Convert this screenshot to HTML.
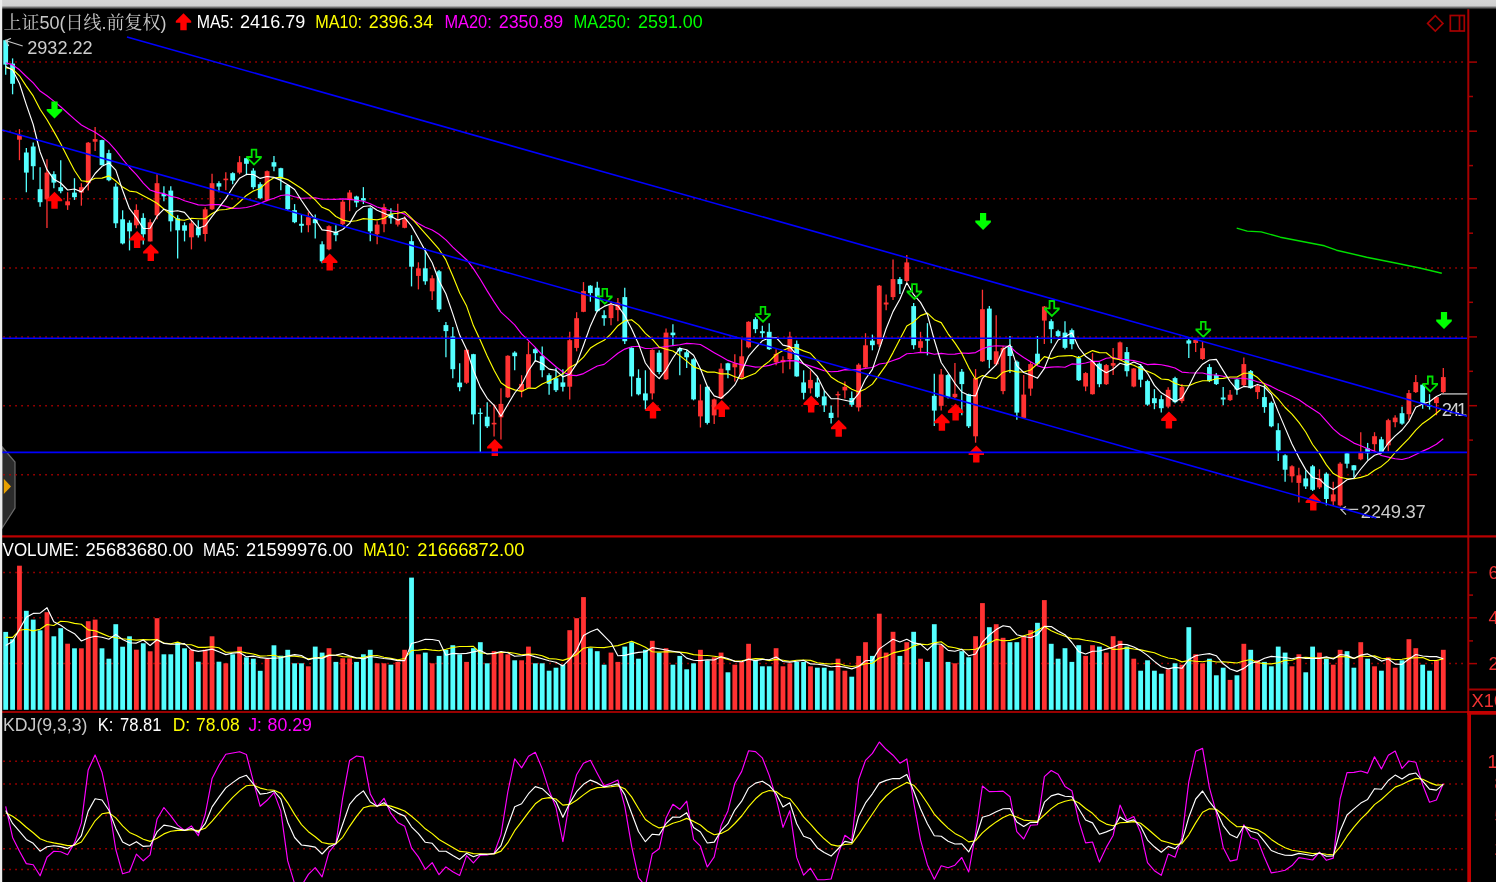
<!DOCTYPE html><html><head><meta charset="utf-8"><title>上证50</title><style>
html,body{margin:0;padding:0;background:#000;}body{width:1496px;height:882px;overflow:hidden;position:relative;font-family:"Liberation Sans","Noto Sans CJK SC",sans-serif;}
svg{position:absolute;left:0;top:0;}text{font-family:"Liberation Sans","Noto Sans CJK SC",sans-serif;font-size:18.4px;}
</style></head><body>
<svg width="1496" height="882" viewBox="0 0 1496 882">
<defs><linearGradient id="tg" x1="0" y1="0" x2="0" y2="1"><stop offset="0" stop-color="#d4d4d4"/><stop offset="0.62" stop-color="#d0d0d0"/><stop offset="1" stop-color="#101010"/></linearGradient></defs>
<rect x="0" y="0" width="1496" height="882" fill="#000"/>
<path d="M2.2 447 L15 462 L15 508 L2.2 528 Z" fill="#2b2b2b" stroke="#6a6a6a" stroke-width="1.2"/>
<path d="M3.8 478.8 L11 486.5 L3.8 494 Z" fill="#e8a000"/>
<line x1="3.3" y1="62.1" x2="1466" y2="62.1" stroke="#b80000" stroke-width="1.5" stroke-dasharray="1.5 4.5"/>
<line x1="3.3" y1="131.2" x2="1466" y2="131.2" stroke="#b80000" stroke-width="1.5" stroke-dasharray="1.5 4.5"/>
<line x1="3.3" y1="198.8" x2="1466" y2="198.8" stroke="#b80000" stroke-width="1.5" stroke-dasharray="1.5 4.5"/>
<line x1="3.3" y1="267.9" x2="1466" y2="267.9" stroke="#b80000" stroke-width="1.5" stroke-dasharray="1.5 4.5"/>
<line x1="3.3" y1="336.9" x2="1466" y2="336.9" stroke="#b80000" stroke-width="1.5" stroke-dasharray="1.5 4.5"/>
<line x1="3.3" y1="405.7" x2="1466" y2="405.7" stroke="#b80000" stroke-width="1.5" stroke-dasharray="1.5 4.5"/>
<line x1="3.3" y1="474.7" x2="1466" y2="474.7" stroke="#b80000" stroke-width="1.5" stroke-dasharray="1.5 4.5"/>
<line x1="3.3" y1="572.5" x2="1466" y2="572.5" stroke="#b80000" stroke-width="1.5" stroke-dasharray="1.5 4.5"/>
<line x1="3.3" y1="617.8" x2="1466" y2="617.8" stroke="#b80000" stroke-width="1.5" stroke-dasharray="1.5 4.5"/>
<line x1="3.3" y1="663.6" x2="1466" y2="663.6" stroke="#b80000" stroke-width="1.5" stroke-dasharray="1.5 4.5"/>
<line x1="3.3" y1="761.3" x2="1466" y2="761.3" stroke="#b80000" stroke-width="1.5" stroke-dasharray="1.5 4.5"/>
<line x1="3.3" y1="784.0" x2="1466" y2="784.0" stroke="#b80000" stroke-width="1.5" stroke-dasharray="1.5 4.5"/>
<line x1="3.3" y1="815.6" x2="1466" y2="815.6" stroke="#b80000" stroke-width="1.5" stroke-dasharray="1.5 4.5"/>
<line x1="3.3" y1="848.7" x2="1466" y2="848.7" stroke="#b80000" stroke-width="1.5" stroke-dasharray="1.5 4.5"/>
<line x1="3.3" y1="869.6" x2="1466" y2="869.6" stroke="#b80000" stroke-width="1.5" stroke-dasharray="1.5 4.5"/>
<rect x="1467.3" y="9" width="2.0" height="703" fill="#a60000"/>
<line x1="1468" y1="62.1" x2="1477" y2="62.1" stroke="#a60000" stroke-width="1.5"/>
<line x1="1468" y1="96.5" x2="1473" y2="96.5" stroke="#a60000" stroke-width="1.5"/>
<line x1="1468" y1="131.2" x2="1477" y2="131.2" stroke="#a60000" stroke-width="1.5"/>
<line x1="1468" y1="165.6" x2="1473" y2="165.6" stroke="#a60000" stroke-width="1.5"/>
<line x1="1468" y1="198.8" x2="1477" y2="198.8" stroke="#a60000" stroke-width="1.5"/>
<line x1="1468" y1="233.2" x2="1473" y2="233.2" stroke="#a60000" stroke-width="1.5"/>
<line x1="1468" y1="267.9" x2="1477" y2="267.9" stroke="#a60000" stroke-width="1.5"/>
<line x1="1468" y1="302.3" x2="1473" y2="302.3" stroke="#a60000" stroke-width="1.5"/>
<line x1="1468" y1="336.9" x2="1477" y2="336.9" stroke="#a60000" stroke-width="1.5"/>
<line x1="1468" y1="371.3" x2="1473" y2="371.3" stroke="#a60000" stroke-width="1.5"/>
<line x1="1468" y1="405.7" x2="1477" y2="405.7" stroke="#a60000" stroke-width="1.5"/>
<line x1="1468" y1="440.1" x2="1473" y2="440.1" stroke="#a60000" stroke-width="1.5"/>
<line x1="1468" y1="474.7" x2="1477" y2="474.7" stroke="#a60000" stroke-width="1.5"/>
<line x1="1468" y1="572.5" x2="1477" y2="572.5" stroke="#a60000" stroke-width="1.5"/>
<line x1="1468" y1="617.8" x2="1477" y2="617.8" stroke="#a60000" stroke-width="1.5"/>
<line x1="1468" y1="595.0999999999999" x2="1473" y2="595.0999999999999" stroke="#a60000" stroke-width="1.5"/>
<line x1="1468" y1="663.6" x2="1477" y2="663.6" stroke="#a60000" stroke-width="1.5"/>
<line x1="1468" y1="640.9" x2="1473" y2="640.9" stroke="#a60000" stroke-width="1.5"/>
<g><path d="M5.70 39.7V74.8" stroke="#54ffff" stroke-width="1.3"/><rect x="3.30" y="40.2" width="4.8" height="24.4" fill="#54ffff"/><path d="M12.58 58.4V94.3" stroke="#54ffff" stroke-width="1.3"/><rect x="10.18" y="63.6" width="4.8" height="20.2" fill="#54ffff"/><path d="M19.46 129.1V160.2" stroke="#ff3232" stroke-width="1.3"/><rect x="17.06" y="135.1" width="4.8" height="4.6" fill="#ff3232"/><path d="M26.34 148.1V192.2" stroke="#54ffff" stroke-width="1.3"/><rect x="23.94" y="152.5" width="4.8" height="20.1" fill="#54ffff"/><path d="M33.21 142.5V179.8" stroke="#54ffff" stroke-width="1.3"/><rect x="30.81" y="146.5" width="4.8" height="19.7" fill="#54ffff"/><path d="M40.09 167.2V206.7" stroke="#54ffff" stroke-width="1.3"/><rect x="37.69" y="189.2" width="4.8" height="13.0" fill="#54ffff"/><path d="M46.97 159.2V227.9" stroke="#ff3232" stroke-width="1.3"/><rect x="44.57" y="172.6" width="4.8" height="26.7" fill="#ff3232"/><path d="M53.85 171.2V188.2" stroke="#54ffff" stroke-width="1.3"/><rect x="51.45" y="174.2" width="4.8" height="8.4" fill="#54ffff"/><path d="M60.73 160.2V193.2" stroke="#54ffff" stroke-width="1.3"/><rect x="58.33" y="187.2" width="4.8" height="4.0" fill="#54ffff"/><path d="M67.61 192.2V209.9" stroke="#ff3232" stroke-width="1.3"/><rect x="65.21" y="201.3" width="4.8" height="4.0" fill="#ff3232"/><path d="M74.48 178.2V199.9" stroke="#54ffff" stroke-width="1.3"/><rect x="72.08" y="192.6" width="4.8" height="4.6" fill="#54ffff"/><path d="M81.36 183.2V205.7" stroke="#ff3232" stroke-width="1.3"/><rect x="78.96" y="187.2" width="4.8" height="5.4" fill="#ff3232"/><path d="M88.24 142.1V190.6" stroke="#ff3232" stroke-width="1.3"/><rect x="85.84" y="142.7" width="4.8" height="40.5" fill="#ff3232"/><path d="M95.12 127.1V151.1" stroke="#ff3232" stroke-width="1.3"/><rect x="92.72" y="139.1" width="4.8" height="2.6" fill="#ff3232"/><path d="M102.00 139.7V165.2" stroke="#54ffff" stroke-width="1.3"/><rect x="99.60" y="140.1" width="4.8" height="25.1" fill="#54ffff"/><path d="M108.88 149.7V181.2" stroke="#54ffff" stroke-width="1.3"/><rect x="106.48" y="153.1" width="4.8" height="27.1" fill="#54ffff"/><path d="M115.76 183.2V227.9" stroke="#54ffff" stroke-width="1.3"/><rect x="113.36" y="186.6" width="4.8" height="36.7" fill="#54ffff"/><path d="M122.63 210.3V244.4" stroke="#54ffff" stroke-width="1.3"/><rect x="120.23" y="219.3" width="4.8" height="24.1" fill="#54ffff"/><path d="M129.51 220.3V250.4" stroke="#54ffff" stroke-width="1.3"/><rect x="127.11" y="222.7" width="4.8" height="8.6" fill="#54ffff"/><path d="M136.39 204.3V228.3" stroke="#ff3232" stroke-width="1.3"/><rect x="133.99" y="209.9" width="4.8" height="15.4" fill="#ff3232"/><path d="M143.27 213.3V244.4" stroke="#54ffff" stroke-width="1.3"/><rect x="140.87" y="217.9" width="4.8" height="16.4" fill="#54ffff"/><path d="M150.15 219.3V241.4" stroke="#ff3232" stroke-width="1.3"/><rect x="147.75" y="222.3" width="4.8" height="19.1" fill="#ff3232"/><path d="M157.03 174.2V219.3" stroke="#ff3232" stroke-width="1.3"/><rect x="154.63" y="183.2" width="4.8" height="32.1" fill="#ff3232"/><path d="M163.91 186.2V201.3" stroke="#54ffff" stroke-width="1.3"/><rect x="161.51" y="193.9" width="4.8" height="2.4" fill="#54ffff"/><path d="M170.78 186.2V231.4" stroke="#54ffff" stroke-width="1.3"/><rect x="168.38" y="190.6" width="4.8" height="30.7" fill="#54ffff"/><path d="M177.66 215.3V258.4" stroke="#54ffff" stroke-width="1.3"/><rect x="175.26" y="218.3" width="4.8" height="12.0" fill="#54ffff"/><path d="M184.54 222.3V241.4" stroke="#54ffff" stroke-width="1.3"/><rect x="182.14" y="225.3" width="4.8" height="5.4" fill="#54ffff"/><path d="M191.42 220.3V249.4" stroke="#ff3232" stroke-width="1.3"/><rect x="189.02" y="223.3" width="4.8" height="14.0" fill="#ff3232"/><path d="M198.30 220.3V237.4" stroke="#54ffff" stroke-width="1.3"/><rect x="195.90" y="227.3" width="4.8" height="8.0" fill="#54ffff"/><path d="M205.18 207.3V241.4" stroke="#ff3232" stroke-width="1.3"/><rect x="202.78" y="209.3" width="4.8" height="24.7" fill="#ff3232"/><path d="M212.05 173.8V209.9" stroke="#ff3232" stroke-width="1.3"/><rect x="209.65" y="183.2" width="4.8" height="26.1" fill="#ff3232"/><path d="M218.93 181.2V192.2" stroke="#54ffff" stroke-width="1.3"/><rect x="216.53" y="183.2" width="4.8" height="3.4" fill="#54ffff"/><path d="M225.81 172.2V190.2" stroke="#ff3232" stroke-width="1.3"/><rect x="223.41" y="178.6" width="4.8" height="1.6" fill="#ff3232"/><path d="M232.69 172.2V184.2" stroke="#54ffff" stroke-width="1.3"/><rect x="230.29" y="173.2" width="4.8" height="7.4" fill="#54ffff"/><path d="M239.57 156.1V174.2" stroke="#ff3232" stroke-width="1.3"/><rect x="237.17" y="162.2" width="4.8" height="10.4" fill="#ff3232"/><path d="M246.45 157.8V175.2" stroke="#54ffff" stroke-width="1.3"/><rect x="244.05" y="158.2" width="4.8" height="5.6" fill="#54ffff"/><path d="M253.33 168.2V189.2" stroke="#54ffff" stroke-width="1.3"/><rect x="250.93" y="170.6" width="4.8" height="16.6" fill="#54ffff"/><path d="M260.20 182.2V199.3" stroke="#54ffff" stroke-width="1.3"/><rect x="257.80" y="184.2" width="4.8" height="14.0" fill="#54ffff"/><path d="M267.08 170.6V201.3" stroke="#ff3232" stroke-width="1.3"/><rect x="264.68" y="171.2" width="4.8" height="29.1" fill="#ff3232"/><path d="M273.96 156.1V171.2" stroke="#54ffff" stroke-width="1.3"/><rect x="271.56" y="162.2" width="4.8" height="4.4" fill="#54ffff"/><path d="M280.84 167.8V190.2" stroke="#54ffff" stroke-width="1.3"/><rect x="278.44" y="168.2" width="4.8" height="10.4" fill="#54ffff"/><path d="M287.72 184.5V209.8" stroke="#54ffff" stroke-width="1.3"/><rect x="285.32" y="185.1" width="4.8" height="24.1" fill="#54ffff"/><path d="M294.60 204.1V223.2" stroke="#54ffff" stroke-width="1.3"/><rect x="292.20" y="210.2" width="4.8" height="12.0" fill="#54ffff"/><path d="M301.48 214.2V232.6" stroke="#54ffff" stroke-width="1.3"/><rect x="299.08" y="223.8" width="4.8" height="2.0" fill="#54ffff"/><path d="M308.35 212.2V232.2" stroke="#ff3232" stroke-width="1.3"/><rect x="305.95" y="217.2" width="4.8" height="8.0" fill="#ff3232"/><path d="M315.23 214.6V238.6" stroke="#54ffff" stroke-width="1.3"/><rect x="312.83" y="219.2" width="4.8" height="4.0" fill="#54ffff"/><path d="M322.11 241.2V263.3" stroke="#54ffff" stroke-width="1.3"/><rect x="319.71" y="244.3" width="4.8" height="17.0" fill="#54ffff"/><path d="M328.99 225.2V250.3" stroke="#ff3232" stroke-width="1.3"/><rect x="326.59" y="226.2" width="4.8" height="23.1" fill="#ff3232"/><path d="M335.87 225.2V241.2" stroke="#54ffff" stroke-width="1.3"/><rect x="333.47" y="231.8" width="4.8" height="3.4" fill="#54ffff"/><path d="M342.75 200.1V225.2" stroke="#ff3232" stroke-width="1.3"/><rect x="340.35" y="201.7" width="4.8" height="22.5" fill="#ff3232"/><path d="M349.62 190.1V211.2" stroke="#ff3232" stroke-width="1.3"/><rect x="347.23" y="192.5" width="4.8" height="7.6" fill="#ff3232"/><path d="M356.50 195.7V207.2" stroke="#54ffff" stroke-width="1.3"/><rect x="354.10" y="196.5" width="4.8" height="6.0" fill="#54ffff"/><path d="M363.38 187.1V204.1" stroke="#54ffff" stroke-width="1.3"/><rect x="360.98" y="198.1" width="4.8" height="2.4" fill="#54ffff"/><path d="M370.26 207.2V241.2" stroke="#54ffff" stroke-width="1.3"/><rect x="367.86" y="208.2" width="4.8" height="23.1" fill="#54ffff"/><path d="M377.14 221.2V244.3" stroke="#ff3232" stroke-width="1.3"/><rect x="374.74" y="224.6" width="4.8" height="9.6" fill="#ff3232"/><path d="M384.02 203.7V232.2" stroke="#ff3232" stroke-width="1.3"/><rect x="381.62" y="207.2" width="4.8" height="17.0" fill="#ff3232"/><path d="M390.90 208.2V223.8" stroke="#54ffff" stroke-width="1.3"/><rect x="388.50" y="213.8" width="4.8" height="4.4" fill="#54ffff"/><path d="M397.77 203.7V226.6" stroke="#ff3232" stroke-width="1.3"/><rect x="395.37" y="219.2" width="4.8" height="5.4" fill="#ff3232"/><path d="M404.65 216.2V228.2" stroke="#ff3232" stroke-width="1.3"/><rect x="402.25" y="219.2" width="4.8" height="8.6" fill="#ff3232"/><path d="M411.53 235.2V286.4" stroke="#54ffff" stroke-width="1.3"/><rect x="409.13" y="241.2" width="4.8" height="25.5" fill="#54ffff"/><path d="M418.41 262.3V289.4" stroke="#ff3232" stroke-width="1.3"/><rect x="416.01" y="268.3" width="4.8" height="7.6" fill="#ff3232"/><path d="M425.29 247.9V284.8" stroke="#54ffff" stroke-width="1.3"/><rect x="422.89" y="268.3" width="4.8" height="13.0" fill="#54ffff"/><path d="M432.17 275.3V300.0" stroke="#ff3232" stroke-width="1.3"/><rect x="429.77" y="278.3" width="4.8" height="13.0" fill="#ff3232"/><path d="M439.05 269.9V312.0" stroke="#54ffff" stroke-width="1.3"/><rect x="436.65" y="271.3" width="4.8" height="38.1" fill="#54ffff"/><path d="M445.92 322.1V357.2" stroke="#54ffff" stroke-width="1.3"/><rect x="443.52" y="325.1" width="4.8" height="6.0" fill="#54ffff"/><path d="M452.80 327.1V378.2" stroke="#54ffff" stroke-width="1.3"/><rect x="450.40" y="336.5" width="4.8" height="32.7" fill="#54ffff"/><path d="M459.68 363.2V391.3" stroke="#54ffff" stroke-width="1.3"/><rect x="457.28" y="382.6" width="4.8" height="4.6" fill="#54ffff"/><path d="M466.56 349.2V383.9" stroke="#ff3232" stroke-width="1.3"/><rect x="464.16" y="349.8" width="4.8" height="32.9" fill="#ff3232"/><path d="M473.44 353.8V424.4" stroke="#54ffff" stroke-width="1.3"/><rect x="471.04" y="354.2" width="4.8" height="60.2" fill="#54ffff"/><path d="M480.32 408.3V452.0" stroke="#54ffff" stroke-width="1.3"/><rect x="477.92" y="412.7" width="4.8" height="1.2" fill="#54ffff"/><path d="M487.19 402.3V428.0" stroke="#54ffff" stroke-width="1.3"/><rect x="484.80" y="416.7" width="4.8" height="9.6" fill="#54ffff"/><path d="M494.07 404.3V436.4" stroke="#ff3232" stroke-width="1.3"/><rect x="491.67" y="422.8" width="4.8" height="1.6" fill="#ff3232"/><path d="M500.95 388.3V439.4" stroke="#ff3232" stroke-width="1.3"/><rect x="498.55" y="403.9" width="4.8" height="13.4" fill="#ff3232"/><path d="M507.83 355.2V397.9" stroke="#ff3232" stroke-width="1.3"/><rect x="505.43" y="355.8" width="4.8" height="41.5" fill="#ff3232"/><path d="M514.71 351.2V370.2" stroke="#54ffff" stroke-width="1.3"/><rect x="512.31" y="352.6" width="4.8" height="3.6" fill="#54ffff"/><path d="M521.59 375.2V397.3" stroke="#ff3232" stroke-width="1.3"/><rect x="519.19" y="383.9" width="4.8" height="7.4" fill="#ff3232"/><path d="M528.47 341.7V388.3" stroke="#ff3232" stroke-width="1.3"/><rect x="526.07" y="354.2" width="4.8" height="33.7" fill="#ff3232"/><path d="M535.34 347.8V361.8" stroke="#54ffff" stroke-width="1.3"/><rect x="532.94" y="349.2" width="4.8" height="4.0" fill="#54ffff"/><path d="M542.22 346.6V377.2" stroke="#54ffff" stroke-width="1.3"/><rect x="539.82" y="356.2" width="4.8" height="14.0" fill="#54ffff"/><path d="M549.10 373.2V394.7" stroke="#54ffff" stroke-width="1.3"/><rect x="546.70" y="375.2" width="4.8" height="8.6" fill="#54ffff"/><path d="M555.98 367.8V391.9" stroke="#54ffff" stroke-width="1.3"/><rect x="553.58" y="378.2" width="4.8" height="12.0" fill="#54ffff"/><path d="M562.86 369.3V391.4" stroke="#54ffff" stroke-width="1.3"/><rect x="560.46" y="382.4" width="4.8" height="4.4" fill="#54ffff"/><path d="M569.74 331.8V399.4" stroke="#ff3232" stroke-width="1.3"/><rect x="567.34" y="340.2" width="4.8" height="46.5" fill="#ff3232"/><path d="M576.62 312.2V351.3" stroke="#ff3232" stroke-width="1.3"/><rect x="574.22" y="318.2" width="4.8" height="29.7" fill="#ff3232"/><path d="M583.49 282.1V312.2" stroke="#ff3232" stroke-width="1.3"/><rect x="581.09" y="291.1" width="4.8" height="20.7" fill="#ff3232"/><path d="M590.37 285.1V301.7" stroke="#54ffff" stroke-width="1.3"/><rect x="587.97" y="285.7" width="4.8" height="7.4" fill="#54ffff"/><path d="M597.25 281.7V312.2" stroke="#54ffff" stroke-width="1.3"/><rect x="594.85" y="287.7" width="4.8" height="23.5" fill="#54ffff"/><path d="M604.13 310.2V325.8" stroke="#54ffff" stroke-width="1.3"/><rect x="601.73" y="315.2" width="4.8" height="3.0" fill="#54ffff"/><path d="M611.01 301.1V325.2" stroke="#ff3232" stroke-width="1.3"/><rect x="608.61" y="305.1" width="4.8" height="13.0" fill="#ff3232"/><path d="M617.89 298.1V321.2" stroke="#ff3232" stroke-width="1.3"/><rect x="615.49" y="302.5" width="4.8" height="7.6" fill="#ff3232"/><path d="M624.76 287.7V343.9" stroke="#54ffff" stroke-width="1.3"/><rect x="622.37" y="297.1" width="4.8" height="44.1" fill="#54ffff"/><path d="M631.64 347.3V396.4" stroke="#54ffff" stroke-width="1.3"/><rect x="629.24" y="347.9" width="4.8" height="28.5" fill="#54ffff"/><path d="M638.52 369.3V395.4" stroke="#54ffff" stroke-width="1.3"/><rect x="636.12" y="377.9" width="4.8" height="16.4" fill="#54ffff"/><path d="M645.40 370.3V409.4" stroke="#54ffff" stroke-width="1.3"/><rect x="643.00" y="393.4" width="4.8" height="7.0" fill="#54ffff"/><path d="M652.28 349.3V399.4" stroke="#ff3232" stroke-width="1.3"/><rect x="649.88" y="349.9" width="4.8" height="43.5" fill="#ff3232"/><path d="M659.16 350.3V374.3" stroke="#54ffff" stroke-width="1.3"/><rect x="656.76" y="352.7" width="4.8" height="19.3" fill="#54ffff"/><path d="M666.04 328.6V379.9" stroke="#ff3232" stroke-width="1.3"/><rect x="663.64" y="332.6" width="4.8" height="46.7" fill="#ff3232"/><path d="M672.91 324.2V345.3" stroke="#54ffff" stroke-width="1.3"/><rect x="670.51" y="332.6" width="4.8" height="2.6" fill="#54ffff"/><path d="M679.79 347.3V375.3" stroke="#54ffff" stroke-width="1.3"/><rect x="677.39" y="348.3" width="4.8" height="3.0" fill="#54ffff"/><path d="M686.67 350.3V367.9" stroke="#54ffff" stroke-width="1.3"/><rect x="684.27" y="352.3" width="4.8" height="5.0" fill="#54ffff"/><path d="M693.55 358.3V400.4" stroke="#54ffff" stroke-width="1.3"/><rect x="691.15" y="359.3" width="4.8" height="40.1" fill="#54ffff"/><path d="M700.43 384.4V427.5" stroke="#ff3232" stroke-width="1.3"/><rect x="698.03" y="400.4" width="4.8" height="16.0" fill="#ff3232"/><path d="M707.31 386.0V424.5" stroke="#54ffff" stroke-width="1.3"/><rect x="704.91" y="386.8" width="4.8" height="36.1" fill="#54ffff"/><path d="M714.19 398.4V424.1" stroke="#ff3232" stroke-width="1.3"/><rect x="711.79" y="399.4" width="4.8" height="16.0" fill="#ff3232"/><path d="M721.06 363.3V398.8" stroke="#ff3232" stroke-width="1.3"/><rect x="718.66" y="368.7" width="4.8" height="29.7" fill="#ff3232"/><path d="M727.94 362.7V378.3" stroke="#54ffff" stroke-width="1.3"/><rect x="725.54" y="363.3" width="4.8" height="7.0" fill="#54ffff"/><path d="M734.82 354.3V381.4" stroke="#ff3232" stroke-width="1.3"/><rect x="732.42" y="363.3" width="4.8" height="4.0" fill="#ff3232"/><path d="M741.70 338.2V378.3" stroke="#ff3232" stroke-width="1.3"/><rect x="739.30" y="356.3" width="4.8" height="21.1" fill="#ff3232"/><path d="M748.58 321.2V348.3" stroke="#ff3232" stroke-width="1.3"/><rect x="746.18" y="321.8" width="4.8" height="25.5" fill="#ff3232"/><path d="M755.46 317.2V333.2" stroke="#54ffff" stroke-width="1.3"/><rect x="753.06" y="319.2" width="4.8" height="10.0" fill="#54ffff"/><path d="M762.34 325.8V338.2" stroke="#54ffff" stroke-width="1.3"/><rect x="759.94" y="331.2" width="4.8" height="2.0" fill="#54ffff"/><path d="M769.21 323.2V349.9" stroke="#54ffff" stroke-width="1.3"/><rect x="766.81" y="331.8" width="4.8" height="17.4" fill="#54ffff"/><path d="M776.09 349.3V365.3" stroke="#ff3232" stroke-width="1.3"/><rect x="773.69" y="353.9" width="4.8" height="8.4" fill="#ff3232"/><path d="M782.97 356.3V373.3" stroke="#ff3232" stroke-width="1.3"/><rect x="780.57" y="359.9" width="4.8" height="2.4" fill="#ff3232"/><path d="M789.85 331.8V369.3" stroke="#ff3232" stroke-width="1.3"/><rect x="787.45" y="336.6" width="4.8" height="22.7" fill="#ff3232"/><path d="M796.73 340.6V376.7" stroke="#54ffff" stroke-width="1.3"/><rect x="794.33" y="343.9" width="4.8" height="32.5" fill="#54ffff"/><path d="M803.61 370.3V399.4" stroke="#54ffff" stroke-width="1.3"/><rect x="801.21" y="382.4" width="4.8" height="10.4" fill="#54ffff"/><path d="M810.48 370.3V393.4" stroke="#ff3232" stroke-width="1.3"/><rect x="808.08" y="379.9" width="4.8" height="8.4" fill="#ff3232"/><path d="M817.36 377.3V398.0" stroke="#54ffff" stroke-width="1.3"/><rect x="814.96" y="382.4" width="4.8" height="14.4" fill="#54ffff"/><path d="M824.24 390.4V412.0" stroke="#54ffff" stroke-width="1.3"/><rect x="821.84" y="396.4" width="4.8" height="9.0" fill="#54ffff"/><path d="M831.12 405.4V423.5" stroke="#54ffff" stroke-width="1.3"/><rect x="828.72" y="412.8" width="4.8" height="5.2" fill="#54ffff"/><path d="M838.00 391.4V417.4" stroke="#ff3232" stroke-width="1.3"/><rect x="835.60" y="394.0" width="4.8" height="1.4" fill="#ff3232"/><path d="M844.88 381.4V398.4" stroke="#ff3232" stroke-width="1.3"/><rect x="842.48" y="386.8" width="4.8" height="3.6" fill="#ff3232"/><path d="M851.76 391.4V406.8" stroke="#54ffff" stroke-width="1.3"/><rect x="849.36" y="398.0" width="4.8" height="6.8" fill="#54ffff"/><path d="M858.63 363.3V411.4" stroke="#ff3232" stroke-width="1.3"/><rect x="856.23" y="364.7" width="4.8" height="42.7" fill="#ff3232"/><path d="M865.51 333.2V367.9" stroke="#ff3232" stroke-width="1.3"/><rect x="863.11" y="345.3" width="4.8" height="22.1" fill="#ff3232"/><path d="M872.39 334.6V350.3" stroke="#54ffff" stroke-width="1.3"/><rect x="869.99" y="340.6" width="4.8" height="4.6" fill="#54ffff"/><path d="M879.27 285.1V347.3" stroke="#ff3232" stroke-width="1.3"/><rect x="876.87" y="285.7" width="4.8" height="58.6" fill="#ff3232"/><path d="M886.15 294.5V310.2" stroke="#ff3232" stroke-width="1.3"/><rect x="883.75" y="302.5" width="4.8" height="2.0" fill="#ff3232"/><path d="M893.03 259.6V300.1" stroke="#ff3232" stroke-width="1.3"/><rect x="890.63" y="279.1" width="4.8" height="18.0" fill="#ff3232"/><path d="M899.90 277.1V294.1" stroke="#54ffff" stroke-width="1.3"/><rect x="897.50" y="279.1" width="4.8" height="5.0" fill="#54ffff"/><path d="M906.78 255.0V282.1" stroke="#ff3232" stroke-width="1.3"/><rect x="904.38" y="262.4" width="4.8" height="18.6" fill="#ff3232"/><path d="M913.66 303.1V349.3" stroke="#54ffff" stroke-width="1.3"/><rect x="911.26" y="306.1" width="4.8" height="39.1" fill="#54ffff"/><path d="M920.54 331.8V352.7" stroke="#ff3232" stroke-width="1.3"/><rect x="918.14" y="341.2" width="4.8" height="6.6" fill="#ff3232"/><path d="M927.42 323.2V355.3" stroke="#54ffff" stroke-width="1.3"/><rect x="925.02" y="339.2" width="4.8" height="1.4" fill="#54ffff"/><path d="M934.30 373.7V425.9" stroke="#54ffff" stroke-width="1.3"/><rect x="931.90" y="395.8" width="4.8" height="14.8" fill="#54ffff"/><path d="M941.18 369.1V410.6" stroke="#ff3232" stroke-width="1.3"/><rect x="938.78" y="374.5" width="4.8" height="31.3" fill="#ff3232"/><path d="M948.05 374.1V398.6" stroke="#54ffff" stroke-width="1.3"/><rect x="945.65" y="375.1" width="4.8" height="22.1" fill="#54ffff"/><path d="M954.93 363.1V398.2" stroke="#ff3232" stroke-width="1.3"/><rect x="952.53" y="393.8" width="4.8" height="3.4" fill="#ff3232"/><path d="M961.81 369.1V415.2" stroke="#54ffff" stroke-width="1.3"/><rect x="959.41" y="371.7" width="4.8" height="12.4" fill="#54ffff"/><path d="M968.69 393.8V427.9" stroke="#54ffff" stroke-width="1.3"/><rect x="966.29" y="394.2" width="4.8" height="32.1" fill="#54ffff"/><path d="M975.57 369.1V442.7" stroke="#ff3232" stroke-width="1.3"/><rect x="973.17" y="378.1" width="4.8" height="58.2" fill="#ff3232"/><path d="M982.45 289.7V361.9" stroke="#ff3232" stroke-width="1.3"/><rect x="980.05" y="309.2" width="4.8" height="52.1" fill="#ff3232"/><path d="M989.33 306.1V368.3" stroke="#54ffff" stroke-width="1.3"/><rect x="986.93" y="308.6" width="4.8" height="51.3" fill="#54ffff"/><path d="M996.20 315.2V365.3" stroke="#ff3232" stroke-width="1.3"/><rect x="993.80" y="351.3" width="4.8" height="13.0" fill="#ff3232"/><path d="M1003.08 346.0V394.2" stroke="#ff3232" stroke-width="1.3"/><rect x="1000.68" y="348.0" width="4.8" height="43.1" fill="#ff3232"/><path d="M1009.96 336.0V373.1" stroke="#54ffff" stroke-width="1.3"/><rect x="1007.56" y="346.0" width="4.8" height="10.0" fill="#54ffff"/><path d="M1016.84 360.5V419.8" stroke="#54ffff" stroke-width="1.3"/><rect x="1014.44" y="361.7" width="4.8" height="50.9" fill="#54ffff"/><path d="M1023.72 375.1V418.2" stroke="#ff3232" stroke-width="1.3"/><rect x="1021.32" y="394.6" width="4.8" height="23.3" fill="#ff3232"/><path d="M1030.60 362.1V395.8" stroke="#ff3232" stroke-width="1.3"/><rect x="1028.20" y="364.1" width="4.8" height="24.5" fill="#ff3232"/><path d="M1037.47 336.0V365.1" stroke="#54ffff" stroke-width="1.3"/><rect x="1035.07" y="353.7" width="4.8" height="10.0" fill="#54ffff"/><path d="M1044.35 306.1V343.9" stroke="#ff3232" stroke-width="1.3"/><rect x="1041.95" y="306.6" width="4.8" height="14.0" fill="#ff3232"/><path d="M1051.23 319.2V343.2" stroke="#54ffff" stroke-width="1.3"/><rect x="1048.83" y="321.2" width="4.8" height="8.0" fill="#54ffff"/><path d="M1058.11 329.8V337.2" stroke="#54ffff" stroke-width="1.3"/><rect x="1055.71" y="331.2" width="4.8" height="5.0" fill="#54ffff"/><path d="M1064.99 321.2V349.3" stroke="#54ffff" stroke-width="1.3"/><rect x="1062.59" y="332.6" width="4.8" height="15.2" fill="#54ffff"/><path d="M1071.87 328.6V349.3" stroke="#54ffff" stroke-width="1.3"/><rect x="1069.47" y="330.2" width="4.8" height="14.0" fill="#54ffff"/><path d="M1078.75 356.1V381.1" stroke="#54ffff" stroke-width="1.3"/><rect x="1076.35" y="358.1" width="4.8" height="22.1" fill="#54ffff"/><path d="M1085.62 372.1V391.2" stroke="#ff3232" stroke-width="1.3"/><rect x="1083.22" y="373.1" width="4.8" height="13.4" fill="#ff3232"/><path d="M1092.50 353.1V394.6" stroke="#ff3232" stroke-width="1.3"/><rect x="1090.10" y="361.1" width="4.8" height="33.1" fill="#ff3232"/><path d="M1099.38 362.5V387.2" stroke="#54ffff" stroke-width="1.3"/><rect x="1096.98" y="363.7" width="4.8" height="20.5" fill="#54ffff"/><path d="M1106.26 364.1V385.1" stroke="#ff3232" stroke-width="1.3"/><rect x="1103.86" y="365.1" width="4.8" height="19.1" fill="#ff3232"/><path d="M1113.14 348.0V375.1" stroke="#ff3232" stroke-width="1.3"/><rect x="1110.74" y="363.1" width="4.8" height="2.6" fill="#ff3232"/><path d="M1120.02 341.6V360.5" stroke="#ff3232" stroke-width="1.3"/><rect x="1117.62" y="342.4" width="4.8" height="17.6" fill="#ff3232"/><path d="M1126.90 347.0V376.5" stroke="#54ffff" stroke-width="1.3"/><rect x="1124.50" y="352.1" width="4.8" height="19.1" fill="#54ffff"/><path d="M1133.77 368.1V387.2" stroke="#ff3232" stroke-width="1.3"/><rect x="1131.37" y="368.5" width="4.8" height="18.0" fill="#ff3232"/><path d="M1140.65 364.1V387.2" stroke="#54ffff" stroke-width="1.3"/><rect x="1138.25" y="366.1" width="4.8" height="13.6" fill="#54ffff"/><path d="M1147.53 379.7V405.8" stroke="#54ffff" stroke-width="1.3"/><rect x="1145.13" y="381.1" width="4.8" height="23.5" fill="#54ffff"/><path d="M1154.41 389.2V409.2" stroke="#54ffff" stroke-width="1.3"/><rect x="1152.01" y="398.2" width="4.8" height="5.0" fill="#54ffff"/><path d="M1161.29 395.2V412.6" stroke="#54ffff" stroke-width="1.3"/><rect x="1158.89" y="399.2" width="4.8" height="9.0" fill="#54ffff"/><path d="M1168.17 387.2V408.2" stroke="#ff3232" stroke-width="1.3"/><rect x="1165.77" y="389.8" width="4.8" height="16.8" fill="#ff3232"/><path d="M1175.05 376.7V403.2" stroke="#54ffff" stroke-width="1.3"/><rect x="1172.64" y="378.1" width="4.8" height="24.1" fill="#54ffff"/><path d="M1181.92 384.1V403.2" stroke="#ff3232" stroke-width="1.3"/><rect x="1179.52" y="387.1" width="4.8" height="14.0" fill="#ff3232"/><path d="M1188.80 339.0V358.1" stroke="#54ffff" stroke-width="1.3"/><rect x="1186.40" y="340.4" width="4.8" height="3.2" fill="#54ffff"/><path d="M1195.68 339.0V352.1" stroke="#ff3232" stroke-width="1.3"/><rect x="1193.28" y="340.0" width="4.8" height="3.0" fill="#ff3232"/><path d="M1202.56 341.6V360.0" stroke="#ff3232" stroke-width="1.3"/><rect x="1200.16" y="348.2" width="4.8" height="10.8" fill="#ff3232"/><path d="M1209.44 364.1V382.1" stroke="#54ffff" stroke-width="1.3"/><rect x="1207.04" y="367.1" width="4.8" height="14.0" fill="#54ffff"/><path d="M1216.32 373.1V385.1" stroke="#54ffff" stroke-width="1.3"/><rect x="1213.92" y="375.1" width="4.8" height="9.0" fill="#54ffff"/><path d="M1223.19 387.1V405.2" stroke="#54ffff" stroke-width="1.3"/><rect x="1220.79" y="397.5" width="4.8" height="2.0" fill="#54ffff"/><path d="M1230.07 390.1V401.1" stroke="#ff3232" stroke-width="1.3"/><rect x="1227.67" y="394.7" width="4.8" height="5.4" fill="#ff3232"/><path d="M1236.95 379.1V394.7" stroke="#54ffff" stroke-width="1.3"/><rect x="1234.55" y="379.5" width="4.8" height="10.0" fill="#54ffff"/><path d="M1243.83 357.4V386.1" stroke="#ff3232" stroke-width="1.3"/><rect x="1241.43" y="364.1" width="4.8" height="21.1" fill="#ff3232"/><path d="M1250.71 370.1V388.7" stroke="#54ffff" stroke-width="1.3"/><rect x="1248.31" y="371.1" width="4.8" height="17.0" fill="#54ffff"/><path d="M1257.59 385.1V399.1" stroke="#ff3232" stroke-width="1.3"/><rect x="1255.19" y="386.1" width="4.8" height="6.0" fill="#ff3232"/><path d="M1264.47 385.1V412.8" stroke="#54ffff" stroke-width="1.3"/><rect x="1262.07" y="397.1" width="4.8" height="10.0" fill="#54ffff"/><path d="M1271.34 401.6V427.2" stroke="#54ffff" stroke-width="1.3"/><rect x="1268.94" y="402.8" width="4.8" height="23.5" fill="#54ffff"/><path d="M1278.22 423.2V460.9" stroke="#54ffff" stroke-width="1.3"/><rect x="1275.82" y="430.2" width="4.8" height="20.1" fill="#54ffff"/><path d="M1285.10 454.3V481.8" stroke="#54ffff" stroke-width="1.3"/><rect x="1282.70" y="455.3" width="4.8" height="14.4" fill="#54ffff"/><path d="M1291.98 465.3V482.4" stroke="#ff3232" stroke-width="1.3"/><rect x="1289.58" y="466.3" width="4.8" height="10.0" fill="#ff3232"/><path d="M1298.86 467.7V502.4" stroke="#ff3232" stroke-width="1.3"/><rect x="1296.46" y="475.3" width="4.8" height="7.6" fill="#ff3232"/><path d="M1305.74 470.3V489.0" stroke="#54ffff" stroke-width="1.3"/><rect x="1303.34" y="478.4" width="4.8" height="8.0" fill="#54ffff"/><path d="M1312.62 464.9V491.0" stroke="#54ffff" stroke-width="1.3"/><rect x="1310.21" y="466.3" width="4.8" height="23.5" fill="#54ffff"/><path d="M1319.49 469.3V489.0" stroke="#ff3232" stroke-width="1.3"/><rect x="1317.09" y="478.4" width="4.8" height="9.0" fill="#ff3232"/><path d="M1326.37 472.3V505.4" stroke="#54ffff" stroke-width="1.3"/><rect x="1323.97" y="473.7" width="4.8" height="25.3" fill="#54ffff"/><path d="M1333.25 481.8V505.4" stroke="#ff3232" stroke-width="1.3"/><rect x="1330.85" y="494.4" width="4.8" height="7.0" fill="#ff3232"/><path d="M1340.13 462.3V506.4" stroke="#ff3232" stroke-width="1.3"/><rect x="1337.73" y="463.7" width="4.8" height="41.7" fill="#ff3232"/><path d="M1347.01 452.9V468.3" stroke="#54ffff" stroke-width="1.3"/><rect x="1344.61" y="453.3" width="4.8" height="10.4" fill="#54ffff"/><path d="M1353.89 464.9V477.4" stroke="#54ffff" stroke-width="1.3"/><rect x="1351.49" y="465.3" width="4.8" height="5.0" fill="#54ffff"/><path d="M1360.76 432.2V460.3" stroke="#ff3232" stroke-width="1.3"/><rect x="1358.36" y="452.9" width="4.8" height="6.4" fill="#ff3232"/><path d="M1367.64 442.9V459.7" stroke="#54ffff" stroke-width="1.3"/><rect x="1365.24" y="448.3" width="4.8" height="5.0" fill="#54ffff"/><path d="M1374.52 432.2V451.3" stroke="#ff3232" stroke-width="1.3"/><rect x="1372.12" y="436.2" width="4.8" height="8.0" fill="#ff3232"/><path d="M1381.40 436.8V453.3" stroke="#54ffff" stroke-width="1.3"/><rect x="1379.00" y="439.3" width="4.8" height="13.0" fill="#54ffff"/><path d="M1388.28 418.8V451.3" stroke="#ff3232" stroke-width="1.3"/><rect x="1385.88" y="420.2" width="4.8" height="25.1" fill="#ff3232"/><path d="M1395.16 415.2V427.2" stroke="#ff3232" stroke-width="1.3"/><rect x="1392.76" y="417.6" width="4.8" height="4.6" fill="#ff3232"/><path d="M1402.04 406.8V424.8" stroke="#54ffff" stroke-width="1.3"/><rect x="1399.64" y="413.2" width="4.8" height="10.4" fill="#54ffff"/><path d="M1408.91 390.1V420.2" stroke="#ff3232" stroke-width="1.3"/><rect x="1406.51" y="393.1" width="4.8" height="21.1" fill="#ff3232"/><path d="M1415.79 375.1V393.1" stroke="#ff3232" stroke-width="1.3"/><rect x="1413.39" y="382.1" width="4.8" height="10.0" fill="#ff3232"/><path d="M1422.67 384.1V408.8" stroke="#54ffff" stroke-width="1.3"/><rect x="1420.27" y="384.7" width="4.8" height="18.4" fill="#54ffff"/><path d="M1429.55 394.1V409.6" stroke="#54ffff" stroke-width="1.3"/><rect x="1427.15" y="405.2" width="4.8" height="1.6" fill="#54ffff"/><path d="M1436.43 396.7V415.2" stroke="#ff3232" stroke-width="1.3"/><rect x="1434.03" y="397.1" width="4.8" height="6.0" fill="#ff3232"/><path d="M1443.31 368.1V397.5" stroke="#ff3232" stroke-width="1.3"/><rect x="1440.91" y="377.1" width="4.8" height="15.0" fill="#ff3232"/></g>
<polyline points="5.7,62.7 12.6,64.9 19.5,69.8 26.3,76.5 33.2,82.9 40.1,91.1 47.0,95.8 53.8,101.1 60.7,106.8 67.6,113.0 74.5,119.1 81.4,125.0 88.2,128.7 95.1,132.2 102.0,137.0 108.9,142.6 115.8,150.4 122.6,159.2 129.5,167.5 136.4,174.6 143.3,183.1 150.1,190.0 157.0,192.4 163.9,193.6 170.8,196.4 177.7,197.8 184.5,200.7 191.4,202.7 198.3,204.9 205.2,205.3 212.1,204.6 218.9,204.6 225.8,206.4 232.7,208.4 239.6,208.3 246.4,207.5 253.3,205.7 260.2,203.4 267.1,200.4 274.0,198.2 280.8,195.5 287.7,194.8 294.6,196.7 301.5,198.2 308.4,198.0 315.2,197.7 322.1,199.2 329.0,199.3 335.9,199.3 342.7,198.9 349.6,199.4 356.5,200.2 363.4,201.3 370.3,203.8 377.1,207.0 384.0,209.1 390.9,210.7 397.8,211.7 404.7,214.1 411.5,219.1 418.4,223.6 425.3,227.2 432.2,230.0 439.0,234.2 445.9,239.9 452.8,247.2 459.7,253.5 466.6,259.7 473.4,268.6 480.3,279.2 487.2,290.9 494.1,301.9 501.0,312.1 507.8,318.3 514.7,324.9 521.6,333.8 528.5,340.6 535.3,347.3 542.2,354.8 549.1,360.7 556.0,366.8 562.9,372.0 569.7,375.1 576.6,375.6 583.5,373.6 590.4,369.8 597.3,366.0 604.1,364.4 611.0,358.9 617.9,353.3 624.8,349.1 631.6,346.8 638.5,346.3 645.4,348.5 652.3,348.2 659.2,347.6 666.0,346.5 672.9,345.6 679.8,344.7 686.7,343.4 693.6,343.8 700.4,344.5 707.3,348.6 714.2,352.7 721.1,356.6 727.9,360.4 734.8,363.0 741.7,364.9 748.6,365.8 755.5,367.1 762.3,366.7 769.2,365.4 776.1,363.3 783.0,361.3 789.8,360.6 796.7,360.9 803.6,363.9 810.5,366.1 817.4,368.4 824.2,370.8 831.1,371.7 838.0,371.4 844.9,369.6 851.8,369.9 858.6,369.7 865.5,368.4 872.4,367.5 879.3,364.0 886.1,363.0 893.0,360.5 899.9,358.1 906.8,353.7 913.7,353.3 920.5,352.4 927.4,352.6 934.3,354.3 941.2,353.4 948.1,354.2 954.9,354.1 961.8,353.0 968.7,353.4 975.6,352.6 982.4,348.7 989.3,346.5 996.2,345.8 1003.1,346.0 1010.0,346.5 1016.8,352.8 1023.7,357.4 1030.6,361.7 1037.5,365.7 1044.4,367.9 1051.2,367.1 1058.1,366.8 1065.0,367.2 1071.9,363.9 1078.7,364.2 1085.6,363.0 1092.5,361.3 1099.4,361.3 1106.3,358.3 1113.1,357.5 1120.0,359.2 1126.9,359.7 1133.8,360.6 1140.7,362.2 1147.5,364.6 1154.4,364.1 1161.3,364.8 1168.2,366.1 1175.0,368.0 1181.9,372.1 1188.8,372.8 1195.7,373.0 1202.6,373.0 1209.4,374.8 1216.3,375.0 1223.2,376.3 1230.1,378.0 1237.0,378.3 1243.8,378.2 1250.7,379.5 1257.6,381.7 1264.5,383.5 1271.3,386.4 1278.2,389.9 1285.1,393.1 1292.0,396.3 1298.9,399.7 1305.7,404.5 1312.6,408.9 1319.5,413.4 1326.4,421.2 1333.3,428.9 1340.1,434.7 1347.0,438.8 1353.9,443.1 1360.8,445.8 1367.6,448.7 1374.5,451.1 1381.4,455.5 1388.3,457.1 1395.2,458.7 1402.0,459.5 1408.9,457.8 1415.8,454.4 1422.7,451.1 1429.5,448.1 1436.4,444.2 1443.3,438.7" fill="none" stroke="#ff00ff" stroke-width="1.15" stroke-linejoin="round"/>
<polyline points="5.7,67.6 12.6,69.1 19.5,75.8 26.3,86.1 33.2,95.9 40.1,109.3 47.0,119.8 53.8,131.4 60.7,143.8 67.6,157.2 74.5,170.5 81.4,180.8 88.2,181.6 95.1,178.2 102.0,178.1 108.9,175.9 115.8,181.0 122.6,187.1 129.5,191.1 136.4,192.0 143.3,195.7 150.1,199.2 157.0,203.2 163.9,209.0 170.8,214.6 177.7,219.6 184.5,220.3 191.4,218.3 198.3,218.7 205.2,218.7 212.1,213.5 218.9,210.0 225.8,209.5 232.7,207.9 239.6,202.0 246.4,195.4 253.3,191.0 260.2,188.5 267.1,182.1 274.0,177.8 280.8,177.4 287.7,179.6 294.6,184.0 301.5,188.5 308.4,194.0 315.2,199.9 322.1,207.3 329.0,210.1 335.9,216.5 342.7,220.1 349.6,221.5 356.5,220.8 363.4,218.6 370.3,219.2 377.1,219.9 384.0,218.3 390.9,214.0 397.8,213.3 404.7,211.7 411.5,218.2 418.4,225.8 425.3,233.6 432.2,241.4 439.0,249.2 445.9,259.9 452.8,276.1 459.7,293.0 466.6,306.1 473.4,325.6 480.3,340.3 487.2,356.1 494.1,370.2 501.0,382.8 507.8,387.4 514.7,389.9 521.6,391.4 528.5,388.1 535.3,388.4 542.2,384.0 549.1,381.0 556.0,377.4 562.9,373.8 569.7,367.4 576.6,363.7 583.5,357.2 590.4,348.1 597.3,343.8 604.1,340.3 611.0,333.8 617.9,325.7 624.8,320.8 631.6,319.7 638.5,325.1 645.4,333.4 652.3,339.2 659.2,347.1 666.0,349.3 672.9,351.0 679.8,355.6 686.7,361.1 693.6,366.9 700.4,369.3 707.3,372.1 714.2,372.0 721.1,373.9 727.9,373.8 734.8,376.8 741.7,378.9 748.6,376.0 755.5,373.2 762.3,366.6 769.2,361.4 776.1,354.5 783.0,350.6 789.8,347.4 796.7,348.0 803.6,350.9 810.5,353.3 817.4,360.8 824.2,368.4 831.1,376.9 838.0,381.4 844.9,384.7 851.8,389.2 858.6,392.0 865.5,388.9 872.4,384.1 879.3,374.7 886.1,365.2 893.0,352.6 899.9,339.2 906.8,326.1 913.7,321.9 920.5,315.6 927.4,313.1 934.3,319.7 941.2,322.6 948.1,333.8 954.9,342.9 961.8,353.4 968.7,367.6 975.6,379.2 982.4,375.6 989.3,377.4 996.2,378.5 1003.1,372.2 1010.0,370.4 1016.8,371.9 1023.7,372.0 1030.6,370.0 1037.5,363.8 1044.4,356.6 1051.2,358.6 1058.1,356.2 1065.0,355.9 1071.9,355.5 1078.7,357.9 1085.6,354.0 1092.5,350.6 1099.4,352.6 1106.3,352.8 1113.1,358.4 1120.0,359.7 1126.9,363.2 1133.8,365.3 1140.7,368.8 1147.5,371.3 1154.4,374.3 1161.3,379.0 1168.2,379.6 1175.0,383.3 1181.9,385.7 1188.8,385.8 1195.7,382.7 1202.6,380.7 1209.4,380.8 1216.3,378.8 1223.2,378.4 1230.1,377.0 1237.0,377.0 1243.8,373.2 1250.7,373.3 1257.6,377.6 1264.5,384.3 1271.3,392.1 1278.2,399.0 1285.1,407.5 1292.0,414.2 1298.9,422.3 1305.7,432.0 1312.6,444.5 1319.5,453.6 1326.4,464.9 1333.3,473.6 1340.1,477.3 1347.0,478.7 1353.9,478.7 1360.8,477.4 1367.6,475.2 1374.5,470.2 1381.4,466.4 1388.3,460.6 1395.2,452.5 1402.0,445.4 1408.9,438.3 1415.8,430.2 1422.7,423.4 1429.5,418.8 1436.4,413.2 1443.3,407.3" fill="none" stroke="#ffff00" stroke-width="1.15" stroke-linejoin="round"/>
<polyline points="5.7,66.5 12.6,69.9 19.5,83.5 26.3,104.6 33.2,124.5 40.1,152.0 47.0,169.7 53.8,179.3 60.7,183.0 67.6,190.0 74.5,189.0 81.4,191.9 88.2,183.9 95.1,173.5 102.0,166.3 108.9,162.9 115.8,170.1 122.6,190.2 129.5,208.7 136.4,217.6 143.3,228.5 150.1,228.3 157.0,216.2 163.9,209.2 170.8,211.5 177.7,210.7 184.5,212.4 191.4,220.4 198.3,228.2 205.2,225.8 212.1,216.4 218.9,207.6 225.8,198.6 232.7,187.7 239.6,178.2 246.4,174.4 253.3,174.5 260.2,178.4 267.1,176.5 274.0,177.4 280.8,180.4 287.7,184.8 294.6,189.5 301.5,200.5 308.4,210.6 315.2,219.5 322.1,229.9 329.0,230.7 335.9,232.6 342.7,229.5 349.6,223.4 356.5,211.6 363.4,206.5 370.3,205.7 377.1,210.3 384.0,213.2 390.9,216.3 397.8,220.1 404.7,217.7 411.5,226.1 418.4,238.3 425.3,250.9 432.2,262.8 439.0,280.8 445.9,293.7 452.8,313.9 459.7,335.1 466.6,349.4 473.4,370.3 480.3,386.9 487.2,398.3 494.1,405.4 501.0,416.3 507.8,404.5 514.7,393.0 521.6,384.5 528.5,370.8 535.3,360.6 542.2,363.5 549.1,369.1 556.0,370.3 562.9,376.9 569.7,374.3 576.6,363.9 583.5,345.3 590.4,325.9 597.3,310.8 604.1,306.4 611.0,303.7 617.9,306.0 624.8,315.7 631.6,328.7 638.5,343.9 645.4,363.0 652.3,372.4 659.2,378.6 666.0,369.8 672.9,358.0 679.8,348.2 686.7,349.7 693.6,355.2 700.4,368.7 707.3,386.2 714.2,395.9 721.1,398.2 727.9,392.3 734.8,384.9 741.7,371.6 748.6,356.1 755.5,348.2 762.3,340.8 769.2,338.0 776.1,337.5 783.0,345.1 789.8,346.6 796.7,355.2 803.6,363.9 810.5,369.1 817.4,376.5 824.2,390.3 831.1,398.6 838.0,398.8 844.9,400.2 851.8,401.8 858.6,393.7 865.5,379.1 872.4,369.4 879.3,349.1 886.1,328.7 893.0,311.6 899.9,299.3 906.8,282.8 913.7,294.7 920.5,302.4 927.4,314.7 934.3,340.0 941.2,362.5 948.1,372.8 954.9,383.3 961.8,392.0 968.7,395.2 975.6,395.9 982.4,378.3 989.3,371.5 996.2,364.9 1003.1,349.3 1010.0,344.9 1016.8,365.6 1023.7,372.5 1030.6,375.1 1037.5,378.2 1044.4,368.3 1051.2,351.6 1058.1,340.0 1065.0,336.7 1071.9,332.8 1078.7,347.5 1085.6,356.3 1092.5,361.3 1099.4,368.5 1106.3,372.7 1113.1,369.3 1120.0,363.2 1126.9,365.2 1133.8,362.0 1140.7,365.0 1147.5,373.3 1154.4,385.4 1161.3,392.8 1168.2,397.1 1175.0,401.6 1181.9,398.1 1188.8,386.2 1195.7,372.5 1202.6,364.2 1209.4,360.0 1216.3,359.4 1223.2,370.6 1230.1,381.5 1237.0,389.8 1243.8,386.4 1250.7,387.2 1257.6,384.5 1264.5,387.0 1271.3,394.3 1278.2,411.6 1285.1,427.9 1292.0,443.9 1298.9,457.6 1305.7,469.6 1312.6,477.5 1319.5,479.2 1326.4,485.8 1333.3,489.6 1340.1,485.1 1347.0,479.8 1353.9,478.2 1360.8,469.0 1367.6,460.8 1374.5,455.3 1381.4,453.0 1388.3,443.0 1395.2,435.9 1402.0,430.0 1408.9,421.4 1415.8,407.3 1422.7,403.9 1429.5,401.8 1436.4,396.5 1443.3,393.2" fill="none" stroke="#ffffff" stroke-width="1.15" stroke-linejoin="round"/>
<polyline points="1236.7,228.1 1247.2,231.1 1261.2,231.9 1280.3,237.2 1324.4,245.8 1336.5,250.2 1366.6,257.2 1396.7,263.2 1420.8,268.3 1441.8,273.3" fill="none" stroke="#00e000" stroke-width="1.4" stroke-linejoin="round"/>
<path d="M54.5 191.8 L62.2 199.5 L62.2 201.3 L57.7 201.3 L57.7 208.8 L51.3 208.8 L51.3 201.3 L46.8 201.3 L46.8 199.5 Z" fill="#ff0000"/>
<path d="M137.1 231.0 L144.8 238.7 L144.8 240.5 L140.3 240.5 L140.3 248.0 L133.9 248.0 L133.9 240.5 L129.4 240.5 L129.4 238.7 Z" fill="#ff0000"/>
<path d="M150.8 244.0 L158.5 251.7 L158.5 253.5 L154.0 253.5 L154.0 261.0 L147.6 261.0 L147.6 253.5 L143.1 253.5 L143.1 251.7 Z" fill="#ff0000"/>
<path d="M329.7 253.5 L337.4 261.2 L337.4 263.0 L332.9 263.0 L332.9 270.5 L326.5 270.5 L326.5 263.0 L322.0 263.0 L322.0 261.2 Z" fill="#ff0000"/>
<path d="M494.8 439.0 L502.5 446.7 L502.5 448.5 L498.0 448.5 L498.0 456.0 L491.6 456.0 L491.6 448.5 L487.1 448.5 L487.1 446.7 Z" fill="#ff0000"/>
<path d="M653.0 401.5 L660.7 409.2 L660.7 411.0 L656.2 411.0 L656.2 418.5 L649.8 418.5 L649.8 411.0 L645.3 411.0 L645.3 409.2 Z" fill="#ff0000"/>
<path d="M721.8 400.0 L729.5 407.7 L729.5 409.5 L725.0 409.5 L725.0 417.0 L718.6 417.0 L718.6 409.5 L714.1 409.5 L714.1 407.7 Z" fill="#ff0000"/>
<path d="M811.2 395.6 L818.9 403.3 L818.9 405.1 L814.4 405.1 L814.4 412.6 L808.0 412.6 L808.0 405.1 L803.5 405.1 L803.5 403.3 Z" fill="#ff0000"/>
<path d="M838.7 419.8 L846.4 427.5 L846.4 429.3 L841.9 429.3 L841.9 436.8 L835.5 436.8 L835.5 429.3 L831.0 429.3 L831.0 427.5 Z" fill="#ff0000"/>
<path d="M941.9 413.8 L949.6 421.5 L949.6 423.3 L945.1 423.3 L945.1 430.8 L938.7 430.8 L938.7 423.3 L934.2 423.3 L934.2 421.5 Z" fill="#ff0000"/>
<path d="M955.6 403.4 L963.3 411.1 L963.3 412.9 L958.8 412.9 L958.8 420.4 L952.4 420.4 L952.4 412.9 L947.9 412.9 L947.9 411.1 Z" fill="#ff0000"/>
<path d="M976.3 445.5 L984.0 453.2 L984.0 455.0 L979.5 455.0 L979.5 462.5 L973.1 462.5 L973.1 455.0 L968.6 455.0 L968.6 453.2 Z" fill="#ff0000"/>
<path d="M1168.9 411.4 L1176.6 419.1 L1176.6 420.9 L1172.1 420.9 L1172.1 428.4 L1165.7 428.4 L1165.7 420.9 L1161.2 420.9 L1161.2 419.1 Z" fill="#ff0000"/>
<path d="M1313.3 493.5 L1321.0 501.2 L1321.0 503.0 L1316.5 503.0 L1316.5 510.5 L1310.1 510.5 L1310.1 503.0 L1305.6 503.0 L1305.6 501.2 Z" fill="#ff0000"/>
<path d="M51.4 101.5 L57.6 101.5 L57.6 109.0 L62.3 109.0 L62.3 110.8 L54.5 118.5 L46.7 110.8 L46.7 109.0 L51.4 109.0 Z" fill="#00ff00"/>
<path d="M980.0 212.9 L986.2 212.9 L986.2 220.4 L990.9 220.4 L990.9 222.2 L983.1 229.9 L975.3 222.2 L975.3 220.4 L980.0 220.4 Z" fill="#00ff00"/>
<path d="M1440.9 311.9 L1447.1 311.9 L1447.1 319.4 L1451.8 319.4 L1451.8 321.2 L1444.0 328.9 L1436.2 321.2 L1436.2 319.4 L1440.9 319.4 Z" fill="#00ff00"/>
<path d="M251.7 149.6 L256.3 149.6 L256.3 157.0 L260.9 157.0 L260.9 157.7 L254.0 164.5 L247.1 157.7 L247.1 157.0 L251.7 157.0 Z" fill="none" stroke="#00e000" stroke-width="1.8" stroke-linejoin="miter"/>
<path d="M602.5 288.9 L607.1 288.9 L607.1 296.3 L611.7 296.3 L611.7 297.0 L604.8 303.8 L597.9 297.0 L597.9 296.3 L602.5 296.3 Z" fill="none" stroke="#00e000" stroke-width="1.8" stroke-linejoin="miter"/>
<path d="M760.7 306.8 L765.3 306.8 L765.3 314.2 L769.9 314.2 L769.9 314.9 L763.0 321.7 L756.1 314.9 L756.1 314.2 L760.7 314.2 Z" fill="none" stroke="#00e000" stroke-width="1.8" stroke-linejoin="miter"/>
<path d="M912.1 284.1 L916.7 284.1 L916.7 291.5 L921.3 291.5 L921.3 292.2 L914.4 299.0 L907.5 292.2 L907.5 291.5 L912.1 291.5 Z" fill="none" stroke="#00e000" stroke-width="1.8" stroke-linejoin="miter"/>
<path d="M1049.6 301.0 L1054.2 301.0 L1054.2 308.4 L1058.8 308.4 L1058.8 309.1 L1051.9 315.9 L1045.0 309.1 L1045.0 308.4 L1049.6 308.4 Z" fill="none" stroke="#00e000" stroke-width="1.8" stroke-linejoin="miter"/>
<path d="M1201.0 321.9 L1205.6 321.9 L1205.6 329.3 L1210.2 329.3 L1210.2 330.0 L1203.3 336.8 L1196.4 330.0 L1196.4 329.3 L1201.0 329.3 Z" fill="none" stroke="#00e000" stroke-width="1.8" stroke-linejoin="miter"/>
<path d="M1427.9 376.5 L1432.5 376.5 L1432.5 383.9 L1437.1 383.9 L1437.1 384.6 L1430.2 391.4 L1423.3 384.6 L1423.3 383.9 L1427.9 383.9 Z" fill="none" stroke="#00e000" stroke-width="1.8" stroke-linejoin="miter"/>
<path d="M183.5 13.2 L191.2 20.9 L191.2 22.7 L186.7 22.7 L186.7 30.2 L180.3 30.2 L180.3 22.7 L175.8 22.7 L175.8 20.9 Z" fill="#ff0000"/>
<path d="M22.7 46 L6.2 40.8 M10.9 38.3 L5.9 40.6 L8.7 46" fill="none" stroke="#c8c8c8" stroke-width="1.2"/>
<path d="M1346 506.4 L1340.9 509.4 L1346 514.6 M1341.2 509.4 L1358.2 509.4" fill="none" stroke="#c8c8c8" stroke-width="1.2"/>
<rect x="1441.2" y="393.9" width="26.2" height="23.5" fill="#000"/>
<path d="M1441.2 393.9 L1467.3 393.9" fill="none" stroke="#9a9a9a" stroke-width="1.7"/>
<text x="1441.7" y="415.6" fill="#d2d2d2" textLength="25.5">241</text>
<text x="1360.8" y="518.0" fill="#cdcdcd" textLength="65">2249.37</text>
<g stroke="#0000ff" stroke-width="1.6" fill="none">
<line x1="2.2" y1="338.2" x2="1467" y2="338.2"/>
<line x1="2.2" y1="452.4" x2="1467" y2="452.4"/>
<line x1="127" y1="37" x2="1467" y2="416.2"/>
<line x1="2.2" y1="129.9" x2="1376.2" y2="518.0"/>
</g>
<g><rect x="3.30" y="631.9" width="4.8" height="77.9" fill="#54ffff"/><rect x="10.18" y="639.3" width="4.8" height="70.5" fill="#54ffff"/><rect x="17.06" y="565.7" width="4.8" height="144.1" fill="#ff3232"/><rect x="23.94" y="610.8" width="4.8" height="99.0" fill="#54ffff"/><rect x="30.81" y="619.6" width="4.8" height="90.2" fill="#54ffff"/><rect x="37.69" y="630.3" width="4.8" height="79.5" fill="#54ffff"/><rect x="44.57" y="612.2" width="4.8" height="97.6" fill="#ff3232"/><rect x="51.45" y="636.3" width="4.8" height="73.5" fill="#54ffff"/><rect x="58.33" y="628.2" width="4.8" height="81.6" fill="#54ffff"/><rect x="65.21" y="643.7" width="4.8" height="66.1" fill="#ff3232"/><rect x="72.08" y="648.3" width="4.8" height="61.5" fill="#54ffff"/><rect x="78.96" y="648.3" width="4.8" height="61.5" fill="#ff3232"/><rect x="85.84" y="621.2" width="4.8" height="88.6" fill="#ff3232"/><rect x="92.72" y="619.6" width="4.8" height="90.2" fill="#ff3232"/><rect x="99.60" y="648.3" width="4.8" height="61.5" fill="#54ffff"/><rect x="106.48" y="658.7" width="4.8" height="51.1" fill="#54ffff"/><rect x="113.36" y="624.2" width="4.8" height="85.6" fill="#54ffff"/><rect x="120.23" y="646.7" width="4.8" height="63.1" fill="#54ffff"/><rect x="127.11" y="636.3" width="4.8" height="73.5" fill="#54ffff"/><rect x="133.99" y="649.7" width="4.8" height="60.1" fill="#ff3232"/><rect x="140.87" y="643.3" width="4.8" height="66.5" fill="#54ffff"/><rect x="147.75" y="651.3" width="4.8" height="58.5" fill="#ff3232"/><rect x="154.63" y="618.2" width="4.8" height="91.6" fill="#ff3232"/><rect x="161.51" y="654.3" width="4.8" height="55.5" fill="#54ffff"/><rect x="168.38" y="654.3" width="4.8" height="55.5" fill="#54ffff"/><rect x="175.26" y="642.7" width="4.8" height="67.1" fill="#54ffff"/><rect x="182.14" y="648.3" width="4.8" height="61.5" fill="#54ffff"/><rect x="189.02" y="649.7" width="4.8" height="60.1" fill="#ff3232"/><rect x="195.90" y="661.7" width="4.8" height="48.1" fill="#54ffff"/><rect x="202.78" y="649.7" width="4.8" height="60.1" fill="#ff3232"/><rect x="209.65" y="636.3" width="4.8" height="73.5" fill="#ff3232"/><rect x="216.53" y="661.7" width="4.8" height="48.1" fill="#54ffff"/><rect x="223.41" y="663.3" width="4.8" height="46.5" fill="#ff3232"/><rect x="230.29" y="654.3" width="4.8" height="55.5" fill="#54ffff"/><rect x="237.17" y="646.7" width="4.8" height="63.1" fill="#ff3232"/><rect x="244.05" y="657.3" width="4.8" height="52.5" fill="#54ffff"/><rect x="250.93" y="658.7" width="4.8" height="51.1" fill="#54ffff"/><rect x="257.80" y="670.8" width="4.8" height="39.0" fill="#54ffff"/><rect x="264.68" y="658.7" width="4.8" height="51.1" fill="#ff3232"/><rect x="271.56" y="645.3" width="4.8" height="64.5" fill="#54ffff"/><rect x="278.44" y="655.7" width="4.8" height="54.1" fill="#54ffff"/><rect x="285.32" y="649.8" width="4.8" height="60.0" fill="#54ffff"/><rect x="292.20" y="663.3" width="4.8" height="46.5" fill="#54ffff"/><rect x="299.08" y="663.3" width="4.8" height="46.5" fill="#54ffff"/><rect x="305.95" y="666.3" width="4.8" height="43.5" fill="#ff3232"/><rect x="312.83" y="646.6" width="4.8" height="63.2" fill="#54ffff"/><rect x="319.71" y="652.6" width="4.8" height="57.2" fill="#54ffff"/><rect x="326.59" y="648.2" width="4.8" height="61.6" fill="#ff3232"/><rect x="333.47" y="661.9" width="4.8" height="47.9" fill="#54ffff"/><rect x="340.35" y="658.3" width="4.8" height="51.5" fill="#ff3232"/><rect x="347.23" y="658.3" width="4.8" height="51.5" fill="#ff3232"/><rect x="354.10" y="661.9" width="4.8" height="47.9" fill="#54ffff"/><rect x="360.98" y="654.3" width="4.8" height="55.5" fill="#54ffff"/><rect x="367.86" y="649.8" width="4.8" height="60.0" fill="#54ffff"/><rect x="374.74" y="663.3" width="4.8" height="46.5" fill="#ff3232"/><rect x="381.62" y="663.3" width="4.8" height="46.5" fill="#ff3232"/><rect x="388.50" y="664.7" width="4.8" height="45.1" fill="#54ffff"/><rect x="395.37" y="661.9" width="4.8" height="47.9" fill="#ff3232"/><rect x="402.25" y="649.8" width="4.8" height="60.0" fill="#ff3232"/><rect x="409.13" y="577.6" width="4.8" height="132.2" fill="#54ffff"/><rect x="416.01" y="654.3" width="4.8" height="55.5" fill="#ff3232"/><rect x="422.89" y="652.6" width="4.8" height="57.2" fill="#54ffff"/><rect x="429.77" y="663.3" width="4.8" height="46.5" fill="#ff3232"/><rect x="436.65" y="655.9" width="4.8" height="53.9" fill="#54ffff"/><rect x="443.52" y="649.8" width="4.8" height="60.0" fill="#54ffff"/><rect x="450.40" y="645.2" width="4.8" height="64.6" fill="#54ffff"/><rect x="457.28" y="654.3" width="4.8" height="55.5" fill="#54ffff"/><rect x="464.16" y="661.9" width="4.8" height="47.9" fill="#ff3232"/><rect x="471.04" y="648.2" width="4.8" height="61.6" fill="#54ffff"/><rect x="477.92" y="642.2" width="4.8" height="67.6" fill="#54ffff"/><rect x="484.80" y="663.3" width="4.8" height="46.5" fill="#54ffff"/><rect x="491.67" y="651.2" width="4.8" height="58.6" fill="#ff3232"/><rect x="498.55" y="652.6" width="4.8" height="57.2" fill="#ff3232"/><rect x="505.43" y="654.3" width="4.8" height="55.5" fill="#ff3232"/><rect x="512.31" y="660.3" width="4.8" height="49.5" fill="#54ffff"/><rect x="519.19" y="660.3" width="4.8" height="49.5" fill="#ff3232"/><rect x="526.07" y="646.6" width="4.8" height="63.2" fill="#ff3232"/><rect x="532.94" y="663.3" width="4.8" height="46.5" fill="#54ffff"/><rect x="539.82" y="663.3" width="4.8" height="46.5" fill="#54ffff"/><rect x="546.70" y="670.7" width="4.8" height="39.1" fill="#54ffff"/><rect x="553.58" y="667.7" width="4.8" height="42.1" fill="#54ffff"/><rect x="560.46" y="664.7" width="4.8" height="45.1" fill="#54ffff"/><rect x="567.34" y="630.2" width="4.8" height="79.6" fill="#ff3232"/><rect x="574.22" y="618.2" width="4.8" height="91.6" fill="#ff3232"/><rect x="581.09" y="597.1" width="4.8" height="112.7" fill="#ff3232"/><rect x="587.97" y="648.2" width="4.8" height="61.6" fill="#54ffff"/><rect x="594.85" y="651.2" width="4.8" height="58.6" fill="#54ffff"/><rect x="601.73" y="664.7" width="4.8" height="45.1" fill="#54ffff"/><rect x="608.61" y="652.6" width="4.8" height="57.2" fill="#ff3232"/><rect x="615.49" y="661.9" width="4.8" height="47.9" fill="#ff3232"/><rect x="622.37" y="646.6" width="4.8" height="63.2" fill="#54ffff"/><rect x="629.24" y="642.2" width="4.8" height="67.6" fill="#54ffff"/><rect x="636.12" y="658.7" width="4.8" height="51.1" fill="#54ffff"/><rect x="643.00" y="649.8" width="4.8" height="60.0" fill="#54ffff"/><rect x="649.88" y="640.8" width="4.8" height="69.0" fill="#ff3232"/><rect x="656.76" y="652.6" width="4.8" height="57.2" fill="#54ffff"/><rect x="663.64" y="648.2" width="4.8" height="61.6" fill="#ff3232"/><rect x="670.51" y="664.7" width="4.8" height="45.1" fill="#54ffff"/><rect x="677.39" y="655.9" width="4.8" height="53.9" fill="#54ffff"/><rect x="684.27" y="669.3" width="4.8" height="40.5" fill="#54ffff"/><rect x="691.15" y="663.3" width="4.8" height="46.5" fill="#54ffff"/><rect x="698.03" y="649.8" width="4.8" height="60.0" fill="#ff3232"/><rect x="704.91" y="660.3" width="4.8" height="49.5" fill="#54ffff"/><rect x="711.79" y="657.3" width="4.8" height="52.5" fill="#ff3232"/><rect x="718.66" y="652.6" width="4.8" height="57.2" fill="#ff3232"/><rect x="725.54" y="672.3" width="4.8" height="37.5" fill="#54ffff"/><rect x="732.42" y="664.7" width="4.8" height="45.1" fill="#ff3232"/><rect x="739.30" y="661.9" width="4.8" height="47.9" fill="#ff3232"/><rect x="746.18" y="643.8" width="4.8" height="66.0" fill="#ff3232"/><rect x="753.06" y="660.3" width="4.8" height="49.5" fill="#54ffff"/><rect x="759.94" y="666.3" width="4.8" height="43.5" fill="#54ffff"/><rect x="766.81" y="666.3" width="4.8" height="43.5" fill="#54ffff"/><rect x="773.69" y="648.2" width="4.8" height="61.6" fill="#ff3232"/><rect x="780.57" y="666.3" width="4.8" height="43.5" fill="#ff3232"/><rect x="787.45" y="663.3" width="4.8" height="46.5" fill="#ff3232"/><rect x="794.33" y="661.9" width="4.8" height="47.9" fill="#54ffff"/><rect x="801.21" y="661.9" width="4.8" height="47.9" fill="#54ffff"/><rect x="808.08" y="666.3" width="4.8" height="43.5" fill="#ff3232"/><rect x="814.96" y="667.7" width="4.8" height="42.1" fill="#54ffff"/><rect x="821.84" y="667.7" width="4.8" height="42.1" fill="#54ffff"/><rect x="828.72" y="670.7" width="4.8" height="39.1" fill="#54ffff"/><rect x="835.60" y="658.7" width="4.8" height="51.1" fill="#ff3232"/><rect x="842.48" y="670.7" width="4.8" height="39.1" fill="#ff3232"/><rect x="849.36" y="676.7" width="4.8" height="33.1" fill="#54ffff"/><rect x="856.23" y="655.9" width="4.8" height="53.9" fill="#ff3232"/><rect x="863.11" y="642.2" width="4.8" height="67.6" fill="#ff3232"/><rect x="869.99" y="655.9" width="4.8" height="53.9" fill="#54ffff"/><rect x="876.87" y="613.7" width="4.8" height="96.1" fill="#ff3232"/><rect x="883.75" y="652.6" width="4.8" height="57.2" fill="#ff3232"/><rect x="890.63" y="631.8" width="4.8" height="78.0" fill="#ff3232"/><rect x="897.50" y="655.9" width="4.8" height="53.9" fill="#54ffff"/><rect x="904.38" y="642.2" width="4.8" height="67.6" fill="#ff3232"/><rect x="911.26" y="631.8" width="4.8" height="78.0" fill="#54ffff"/><rect x="918.14" y="658.7" width="4.8" height="51.1" fill="#ff3232"/><rect x="925.02" y="661.9" width="4.8" height="47.9" fill="#54ffff"/><rect x="931.90" y="624.2" width="4.8" height="85.6" fill="#54ffff"/><rect x="938.78" y="645.2" width="4.8" height="64.6" fill="#ff3232"/><rect x="945.65" y="661.9" width="4.8" height="47.9" fill="#54ffff"/><rect x="952.53" y="663.3" width="4.8" height="46.5" fill="#ff3232"/><rect x="959.41" y="651.2" width="4.8" height="58.6" fill="#54ffff"/><rect x="966.29" y="657.3" width="4.8" height="52.5" fill="#54ffff"/><rect x="973.17" y="636.2" width="4.8" height="73.6" fill="#ff3232"/><rect x="980.05" y="603.1" width="4.8" height="106.7" fill="#ff3232"/><rect x="986.93" y="627.2" width="4.8" height="82.6" fill="#54ffff"/><rect x="993.80" y="624.2" width="4.8" height="85.6" fill="#ff3232"/><rect x="1000.68" y="637.8" width="4.8" height="72.0" fill="#ff3232"/><rect x="1007.56" y="642.2" width="4.8" height="67.6" fill="#54ffff"/><rect x="1014.44" y="642.2" width="4.8" height="67.6" fill="#54ffff"/><rect x="1021.32" y="636.2" width="4.8" height="73.6" fill="#ff3232"/><rect x="1028.20" y="630.2" width="4.8" height="79.6" fill="#ff3232"/><rect x="1035.07" y="622.8" width="4.8" height="87.0" fill="#54ffff"/><rect x="1041.95" y="600.1" width="4.8" height="109.7" fill="#ff3232"/><rect x="1048.83" y="643.8" width="4.8" height="66.0" fill="#54ffff"/><rect x="1055.71" y="658.7" width="4.8" height="51.1" fill="#54ffff"/><rect x="1062.59" y="648.2" width="4.8" height="61.6" fill="#54ffff"/><rect x="1069.47" y="661.9" width="4.8" height="47.9" fill="#54ffff"/><rect x="1076.35" y="645.2" width="4.8" height="64.6" fill="#54ffff"/><rect x="1083.22" y="655.9" width="4.8" height="53.9" fill="#ff3232"/><rect x="1090.10" y="645.2" width="4.8" height="64.6" fill="#ff3232"/><rect x="1096.98" y="646.6" width="4.8" height="63.2" fill="#54ffff"/><rect x="1103.86" y="652.6" width="4.8" height="57.2" fill="#ff3232"/><rect x="1110.74" y="636.2" width="4.8" height="73.6" fill="#ff3232"/><rect x="1117.62" y="640.8" width="4.8" height="69.0" fill="#ff3232"/><rect x="1124.50" y="646.6" width="4.8" height="63.2" fill="#54ffff"/><rect x="1131.37" y="658.7" width="4.8" height="51.1" fill="#ff3232"/><rect x="1138.25" y="670.7" width="4.8" height="39.1" fill="#54ffff"/><rect x="1145.13" y="660.3" width="4.8" height="49.5" fill="#54ffff"/><rect x="1152.01" y="670.7" width="4.8" height="39.1" fill="#54ffff"/><rect x="1158.89" y="673.7" width="4.8" height="36.1" fill="#54ffff"/><rect x="1165.77" y="669.3" width="4.8" height="40.5" fill="#ff3232"/><rect x="1172.64" y="663.3" width="4.8" height="46.5" fill="#54ffff"/><rect x="1179.52" y="664.7" width="4.8" height="45.1" fill="#ff3232"/><rect x="1186.40" y="627.2" width="4.8" height="82.6" fill="#54ffff"/><rect x="1193.28" y="654.3" width="4.8" height="55.5" fill="#ff3232"/><rect x="1200.16" y="663.3" width="4.8" height="46.5" fill="#ff3232"/><rect x="1207.04" y="658.7" width="4.8" height="51.1" fill="#54ffff"/><rect x="1213.92" y="675.3" width="4.8" height="34.5" fill="#54ffff"/><rect x="1220.79" y="667.7" width="4.8" height="42.1" fill="#54ffff"/><rect x="1227.67" y="679.9" width="4.8" height="29.9" fill="#ff3232"/><rect x="1234.55" y="675.3" width="4.8" height="34.5" fill="#54ffff"/><rect x="1241.43" y="643.8" width="4.8" height="66.0" fill="#ff3232"/><rect x="1248.31" y="649.8" width="4.8" height="60.0" fill="#54ffff"/><rect x="1255.19" y="660.3" width="4.8" height="49.5" fill="#ff3232"/><rect x="1262.07" y="661.9" width="4.8" height="47.9" fill="#54ffff"/><rect x="1268.94" y="666.3" width="4.8" height="43.5" fill="#54ffff"/><rect x="1275.82" y="646.6" width="4.8" height="63.2" fill="#54ffff"/><rect x="1282.70" y="652.6" width="4.8" height="57.2" fill="#54ffff"/><rect x="1289.58" y="666.3" width="4.8" height="43.5" fill="#ff3232"/><rect x="1296.46" y="654.3" width="4.8" height="55.5" fill="#ff3232"/><rect x="1303.34" y="672.3" width="4.8" height="37.5" fill="#54ffff"/><rect x="1310.21" y="646.6" width="4.8" height="63.2" fill="#54ffff"/><rect x="1317.09" y="652.6" width="4.8" height="57.2" fill="#ff3232"/><rect x="1323.97" y="658.7" width="4.8" height="51.1" fill="#54ffff"/><rect x="1330.85" y="664.7" width="4.8" height="45.1" fill="#ff3232"/><rect x="1337.73" y="649.8" width="4.8" height="60.0" fill="#ff3232"/><rect x="1344.61" y="651.2" width="4.8" height="58.6" fill="#54ffff"/><rect x="1351.49" y="667.7" width="4.8" height="42.1" fill="#54ffff"/><rect x="1358.36" y="642.2" width="4.8" height="67.6" fill="#ff3232"/><rect x="1365.24" y="658.7" width="4.8" height="51.1" fill="#54ffff"/><rect x="1372.12" y="666.3" width="4.8" height="43.5" fill="#ff3232"/><rect x="1379.00" y="670.7" width="4.8" height="39.1" fill="#54ffff"/><rect x="1385.88" y="657.3" width="4.8" height="52.5" fill="#ff3232"/><rect x="1392.76" y="667.7" width="4.8" height="42.1" fill="#ff3232"/><rect x="1399.64" y="660.3" width="4.8" height="49.5" fill="#54ffff"/><rect x="1406.51" y="639.2" width="4.8" height="70.6" fill="#ff3232"/><rect x="1413.39" y="648.2" width="4.8" height="61.6" fill="#ff3232"/><rect x="1420.27" y="664.7" width="4.8" height="45.1" fill="#54ffff"/><rect x="1427.15" y="670.7" width="4.8" height="39.1" fill="#54ffff"/><rect x="1434.03" y="660.3" width="4.8" height="49.5" fill="#ff3232"/><rect x="1440.91" y="649.8" width="4.8" height="60.0" fill="#ff3232"/></g>
<polyline points="5.7,637.4 12.6,637.4 19.5,630.3 26.3,629.3 33.2,630.9 40.1,629.3 47.0,624.5 53.8,625.5 60.7,621.3 67.6,621.8 74.5,623.4 81.4,624.3 88.2,629.9 95.1,630.8 102.0,633.6 108.9,636.5 115.8,637.7 122.6,638.7 129.5,639.5 136.4,640.1 143.3,639.6 150.1,639.9 157.0,639.6 163.9,643.1 170.8,643.7 177.7,642.1 184.5,644.5 191.4,644.8 198.3,647.4 205.2,647.4 212.1,646.7 218.9,647.7 225.8,652.2 232.7,652.2 239.6,651.5 246.4,652.9 253.3,654.0 260.2,656.1 267.1,655.8 274.0,655.3 280.8,657.3 287.7,656.1 294.6,656.1 301.5,657.0 308.4,658.9 315.2,657.9 322.1,657.2 329.0,655.0 335.9,655.3 342.7,656.6 349.6,656.9 356.5,658.1 363.4,657.2 370.3,655.8 377.1,655.5 384.0,657.2 390.9,658.4 397.8,659.7 404.7,658.5 411.5,650.5 418.4,650.1 425.3,649.2 432.2,650.1 439.0,650.7 445.9,649.3 452.8,647.5 459.7,646.5 466.6,646.5 473.4,646.3 480.3,652.8 487.2,653.7 494.1,653.5 501.0,652.5 507.8,652.3 514.7,653.3 521.6,654.9 528.5,654.1 535.3,654.2 542.2,655.7 549.1,658.6 556.0,659.0 562.9,660.4 569.7,658.1 576.6,654.5 583.5,648.2 590.4,647.0 597.3,647.5 604.1,647.6 611.0,646.5 617.9,645.6 624.8,643.5 631.6,641.3 638.5,644.1 645.4,647.3 652.3,651.7 659.2,652.1 666.0,651.8 672.9,651.8 679.8,652.1 686.7,652.9 693.6,654.6 700.4,655.3 707.3,655.5 714.2,656.2 721.1,657.4 727.9,659.4 734.8,661.0 741.7,660.7 748.6,659.5 755.5,658.6 762.3,658.9 769.2,660.6 776.1,659.4 783.0,660.3 789.8,661.3 796.7,660.3 803.6,660.0 810.5,660.4 817.4,662.8 824.2,663.6 831.1,664.0 838.0,663.3 844.9,665.5 851.8,666.5 858.6,665.8 865.5,663.8 872.4,663.2 879.3,658.0 886.1,656.5 893.0,652.9 899.9,651.4 906.8,649.8 913.7,645.9 920.5,644.1 927.4,644.7 934.3,642.9 941.2,641.8 948.1,646.6 954.9,647.7 961.8,649.6 968.7,649.8 975.6,649.2 982.4,646.3 989.3,643.1 996.2,639.4 1003.1,640.7 1010.0,640.4 1016.8,638.5 1023.7,635.8 1030.6,633.7 1037.5,630.2 1044.4,626.6 1051.2,630.7 1058.1,633.8 1065.0,636.2 1071.9,638.6 1078.7,638.9 1085.6,640.3 1092.5,641.2 1099.4,642.8 1106.3,645.8 1113.1,649.4 1120.0,649.1 1126.9,647.9 1133.8,649.0 1140.7,649.9 1147.5,651.4 1154.4,652.8 1161.3,655.7 1168.2,658.0 1175.0,659.0 1181.9,661.9 1188.8,660.5 1195.7,661.3 1202.6,661.7 1209.4,660.5 1216.3,662.0 1223.2,661.7 1230.1,662.4 1237.0,663.0 1243.8,661.0 1250.7,659.5 1257.6,662.8 1264.5,663.6 1271.3,663.9 1278.2,662.7 1285.1,660.4 1292.0,660.3 1298.9,657.7 1305.7,657.4 1312.6,657.7 1319.5,658.0 1326.4,657.8 1333.3,658.1 1340.1,656.5 1347.0,656.9 1353.9,658.4 1360.8,656.0 1367.6,656.5 1374.5,655.9 1381.4,658.3 1388.3,658.7 1395.2,659.6 1402.0,659.2 1408.9,658.1 1415.8,657.8 1422.7,657.5 1429.5,660.4 1436.4,660.5 1443.3,658.9" fill="none" stroke="#ffff00" stroke-width="1.15" stroke-linejoin="round"/>
<polyline points="5.7,645.4 12.6,641.4 19.5,629.3 26.3,617.2 33.2,613.4 40.1,613.1 47.0,607.7 53.8,621.8 60.7,625.3 67.6,630.1 74.5,633.7 81.4,641.0 88.2,638.0 95.1,636.2 102.0,637.2 108.9,639.2 115.8,634.4 122.6,639.5 129.5,642.8 136.4,643.1 143.3,640.0 150.1,645.5 157.0,639.8 163.9,643.4 170.8,644.3 177.7,644.2 184.5,643.6 191.4,649.9 198.3,651.4 205.2,650.4 212.1,649.1 218.9,651.8 225.8,654.6 232.7,653.1 239.6,652.5 246.4,656.7 253.3,656.1 260.2,657.6 267.1,658.4 274.0,658.2 280.8,657.8 287.7,656.1 294.6,654.6 301.5,655.5 308.4,659.7 315.2,657.9 322.1,658.4 329.0,655.4 335.9,655.1 342.7,653.5 349.6,655.9 356.5,657.7 363.4,658.9 370.3,656.5 377.1,657.5 384.0,658.5 390.9,659.1 397.8,660.6 404.7,660.6 411.5,643.5 418.4,641.7 425.3,639.3 432.2,639.5 439.0,640.7 445.9,655.2 452.8,653.4 459.7,653.7 466.6,653.4 473.4,651.9 480.3,650.4 487.2,654.0 494.1,653.4 501.0,651.5 507.8,652.7 514.7,656.3 521.6,655.7 528.5,654.8 535.3,656.9 542.2,658.7 549.1,660.8 556.0,662.3 562.9,665.9 569.7,659.3 576.6,650.3 583.5,635.6 590.4,631.7 597.3,629.0 604.1,635.9 611.0,642.8 617.9,655.7 624.8,655.4 631.6,653.6 638.5,652.4 645.4,651.8 652.3,647.6 659.2,648.8 666.0,650.0 672.9,651.2 679.8,652.4 686.7,658.1 693.6,660.3 700.4,660.6 707.3,659.7 714.2,660.0 721.1,656.7 727.9,658.5 734.8,661.4 741.7,661.8 748.6,659.1 755.5,660.6 762.3,659.4 769.2,659.7 776.1,657.0 783.0,661.5 789.8,662.1 796.7,661.2 803.6,660.3 810.5,663.9 817.4,664.2 824.2,665.1 831.1,666.8 838.0,666.2 844.9,667.1 851.8,668.9 858.6,666.5 865.5,660.8 872.4,660.3 879.3,648.9 886.1,644.1 893.0,639.3 899.9,642.0 906.8,639.3 913.7,642.9 920.5,644.1 927.4,650.1 934.3,643.7 941.2,644.3 948.1,650.4 954.9,651.3 961.8,649.2 968.7,655.8 975.6,654.0 982.4,642.2 989.3,635.0 996.2,629.6 1003.1,625.7 1010.0,626.9 1016.8,634.7 1023.7,636.5 1030.6,637.7 1037.5,634.7 1044.4,626.3 1051.2,626.6 1058.1,631.1 1065.0,634.7 1071.9,642.5 1078.7,651.6 1085.6,654.0 1092.5,651.3 1099.4,651.0 1106.3,649.1 1113.1,647.3 1120.0,644.3 1126.9,644.6 1133.8,647.0 1140.7,650.6 1147.5,655.4 1154.4,661.4 1161.3,666.8 1168.2,668.9 1175.0,667.4 1181.9,668.3 1188.8,659.6 1195.7,655.7 1202.6,654.5 1209.4,653.6 1216.3,655.7 1223.2,663.8 1230.1,669.0 1237.0,671.4 1243.8,668.4 1250.7,663.3 1257.6,661.8 1264.5,658.2 1271.3,656.4 1278.2,657.0 1285.1,657.5 1292.0,658.7 1298.9,657.2 1305.7,658.4 1312.6,658.4 1319.5,658.4 1326.4,656.9 1333.3,659.0 1340.1,654.5 1347.0,655.4 1353.9,658.4 1360.8,655.1 1367.6,653.9 1374.5,657.2 1381.4,661.1 1388.3,659.0 1395.2,664.1 1402.0,664.4 1408.9,659.0 1415.8,654.5 1422.7,656.0 1429.5,656.6 1436.4,656.6 1443.3,658.7" fill="none" stroke="#ffffff" stroke-width="1.15" stroke-linejoin="round"/>
<clipPath id="kc"><rect x="0" y="713" width="1468" height="169"/></clipPath><g clip-path="url(#kc)">
<polyline points="5.7,806.3 12.6,837.4 19.5,851.2 26.3,863.6 33.2,864.7 40.1,875.8 47.0,857.2 53.8,851.3 60.7,851.7 67.6,854.7 74.5,842.9 81.4,822.9 88.2,769.9 95.1,754.9 102.0,772.2 108.9,805.5 115.8,849.5 122.6,873.8 129.5,871.8 136.4,854.1 143.3,860.8 150.1,854.9 157.0,819.3 163.9,807.5 170.8,815.9 177.7,825.1 184.5,830.5 191.4,825.9 198.3,835.7 205.2,814.5 212.1,778.4 218.9,765.2 225.8,754.2 232.7,753.0 239.6,751.7 246.4,754.5 253.3,781.3 260.2,806.3 267.1,800.3 274.0,792.6 280.8,810.9 287.7,860.9 294.6,883.7 301.5,885.8 308.4,874.4 315.2,867.6 322.1,876.8 329.0,852.2 335.9,843.5 342.7,797.9 349.6,760.5 356.5,756.0 363.4,757.1 370.3,794.1 377.1,806.6 384.0,798.3 390.9,813.4 397.8,822.4 404.7,826.3 411.5,847.9 418.4,856.9 425.3,869.3 432.2,862.6 439.0,874.7 445.9,866.9 452.8,871.7 459.7,875.4 466.6,855.6 473.4,862.8 480.3,855.2 487.2,855.0 494.1,853.2 501.0,834.6 507.8,792.0 514.7,758.9 521.6,767.9 528.5,756.3 535.3,752.3 542.2,768.6 549.1,790.4 556.0,807.5 562.9,841.7 569.7,800.5 576.6,774.7 583.5,763.2 590.4,760.3 597.3,773.4 604.1,785.9 611.0,783.2 617.9,780.0 624.8,806.4 631.6,846.1 638.5,877.6 645.4,886.0 652.3,853.7 659.2,848.8 666.0,818.1 672.9,804.3 679.8,809.3 686.7,801.1 693.6,839.4 700.4,846.2 707.3,867.0 714.2,856.9 721.1,825.5 727.9,810.9 734.8,783.5 741.7,771.4 748.6,750.8 755.5,751.6 762.3,757.8 769.2,775.4 776.1,797.9 783.0,827.4 789.8,810.7 796.7,857.4 803.6,875.1 810.5,868.2 817.4,879.6 824.2,879.7 831.1,879.0 838.0,854.9 844.9,835.3 851.8,840.3 858.6,779.8 865.5,760.4 872.4,753.4 879.3,742.0 886.1,749.3 893.0,755.2 899.9,763.2 906.8,758.9 913.7,802.4 920.5,839.9 927.4,864.7 934.3,879.2 941.2,865.8 948.1,867.8 954.9,865.2 961.8,857.5 968.7,872.0 975.6,833.6 982.4,786.0 989.3,791.6 996.2,791.5 1003.1,791.1 1010.0,796.7 1016.8,831.6 1023.7,839.0 1030.6,825.2 1037.5,824.7 1044.4,776.7 1051.2,770.5 1058.1,774.3 1065.0,786.4 1071.9,790.7 1078.7,820.8 1085.6,842.9 1092.5,842.0 1099.4,862.1 1106.3,847.4 1113.1,835.5 1120.0,805.1 1126.9,820.1 1133.8,816.5 1140.7,832.7 1147.5,862.7 1154.4,870.7 1161.3,875.3 1168.2,854.1 1175.0,857.2 1181.9,837.9 1188.8,781.9 1195.7,751.3 1202.6,748.4 1209.4,787.7 1216.3,812.6 1223.2,847.4 1230.1,861.1 1237.0,859.6 1243.8,824.8 1250.7,837.5 1257.6,840.0 1264.5,857.6 1271.3,872.9 1278.2,871.7 1285.1,870.2 1292.0,865.6 1298.9,857.6 1305.7,858.7 1312.6,860.0 1319.5,852.2 1326.4,860.3 1333.3,858.1 1340.1,799.0 1347.0,772.6 1353.9,772.4 1360.8,771.0 1367.6,773.1 1374.5,756.8 1381.4,768.9 1388.3,755.3 1395.2,751.0 1402.0,768.4 1408.9,761.0 1415.8,762.2 1422.7,784.7 1429.5,802.2 1436.4,800.0 1443.3,783.5" fill="none" stroke="#ff00ff" stroke-width="1.15" stroke-linejoin="round"/>
<polyline points="5.7,812.8 12.6,816.3 19.5,821.3 26.3,827.3 33.2,832.7 40.1,838.8 47.0,841.5 53.8,842.9 60.7,844.1 67.6,845.6 74.5,845.2 81.4,842.0 88.2,831.7 95.1,820.8 102.0,813.8 108.9,812.6 115.8,817.9 122.6,825.9 129.5,832.4 136.4,835.5 143.3,839.2 150.1,841.4 157.0,838.2 163.9,833.9 170.8,831.3 177.7,830.4 184.5,830.4 191.4,829.8 198.3,830.6 205.2,828.3 212.1,821.2 218.9,813.2 225.8,804.8 232.7,797.4 239.6,790.9 246.4,785.7 253.3,785.0 260.2,788.1 267.1,789.8 274.0,790.2 280.8,793.2 287.7,802.8 294.6,814.4 301.5,824.6 308.4,831.7 315.2,836.8 322.1,842.5 329.0,843.9 335.9,843.9 342.7,837.3 349.6,826.3 356.5,816.3 363.4,807.8 370.3,805.9 377.1,806.0 384.0,804.9 390.9,806.1 397.8,808.4 404.7,811.0 411.5,816.3 418.4,822.1 425.3,828.8 432.2,833.6 439.0,839.5 445.9,843.4 452.8,847.5 459.7,851.4 466.6,852.0 473.4,853.6 480.3,853.8 487.2,854.0 494.1,853.9 501.0,851.1 507.8,842.7 514.7,830.7 521.6,821.7 528.5,812.4 535.3,803.8 542.2,798.8 549.1,797.6 556.0,799.0 562.9,805.1 569.7,804.4 576.6,800.2 583.5,794.9 590.4,790.0 597.3,787.6 604.1,787.3 611.0,786.7 617.9,785.8 624.8,788.7 631.6,796.9 638.5,808.5 645.4,819.5 652.3,824.4 659.2,827.9 666.0,826.5 672.9,823.3 679.8,821.3 686.7,818.4 693.6,821.4 700.4,825.0 707.3,831.0 714.2,834.7 721.1,833.4 727.9,830.1 734.8,823.5 741.7,816.0 748.6,806.7 755.5,798.8 762.3,793.0 769.2,790.5 776.1,791.5 783.0,796.7 789.8,798.7 796.7,807.0 803.6,816.8 810.5,824.1 817.4,832.0 824.2,838.8 831.1,844.6 838.0,846.1 844.9,844.5 851.8,843.9 858.6,834.7 865.5,824.1 872.4,814.0 879.3,803.7 886.1,796.0 893.0,790.1 899.9,786.3 906.8,782.4 913.7,785.2 920.5,793.1 927.4,803.3 934.3,814.1 941.2,821.5 948.1,828.1 954.9,833.4 961.8,836.9 968.7,841.9 975.6,840.7 982.4,832.9 989.3,827.0 996.2,821.9 1003.1,817.5 1010.0,814.5 1016.8,817.0 1023.7,820.1 1030.6,820.8 1037.5,821.4 1044.4,815.0 1051.2,808.6 1058.1,803.7 1065.0,801.3 1071.9,799.8 1078.7,802.8 1085.6,808.5 1092.5,813.3 1099.4,820.3 1106.3,824.1 1113.1,825.8 1120.0,822.8 1126.9,822.4 1133.8,821.6 1140.7,823.2 1147.5,828.8 1154.4,834.8 1161.3,840.6 1168.2,842.5 1175.0,844.6 1181.9,843.7 1188.8,834.8 1195.7,822.9 1202.6,812.3 1209.4,808.8 1216.3,809.3 1223.2,814.7 1230.1,821.4 1237.0,826.8 1243.8,826.5 1250.7,828.1 1257.6,829.8 1264.5,833.8 1271.3,839.4 1278.2,844.0 1285.1,847.7 1292.0,850.3 1298.9,851.3 1305.7,852.4 1312.6,853.5 1319.5,853.3 1326.4,854.3 1333.3,854.8 1340.1,846.9 1347.0,836.2 1353.9,827.1 1360.8,819.1 1367.6,812.5 1374.5,804.6 1381.4,799.5 1388.3,793.2 1395.2,787.1 1402.0,784.5 1408.9,781.1 1415.8,778.4 1422.7,779.3 1429.5,782.6 1436.4,785.1 1443.3,784.8" fill="none" stroke="#ffff00" stroke-width="1.15" stroke-linejoin="round"/>
<polyline points="5.7,810.6 12.6,823.4 19.5,831.3 26.3,839.4 33.2,843.3 40.1,851.2 47.0,846.7 53.8,845.7 60.7,846.6 67.6,848.6 74.5,844.5 81.4,835.6 88.2,811.1 95.1,798.8 102.0,800.0 108.9,810.3 115.8,828.4 122.6,841.9 129.5,845.6 136.4,841.7 143.3,846.4 150.1,845.9 157.0,831.9 163.9,825.1 170.8,826.2 177.7,828.6 184.5,830.4 191.4,828.5 198.3,832.3 205.2,823.7 212.1,806.9 218.9,797.2 225.8,787.9 232.7,782.6 239.6,777.8 246.4,775.3 253.3,783.8 260.2,794.1 267.1,793.3 274.0,791.0 280.8,799.1 287.7,822.2 294.6,837.5 301.5,845.0 308.4,845.9 315.2,847.1 322.1,854.0 329.0,846.7 335.9,843.7 342.7,824.2 349.6,804.4 356.5,796.2 363.4,790.9 370.3,802.0 377.1,806.2 384.0,802.7 390.9,808.6 397.8,813.1 404.7,816.1 411.5,826.8 418.4,833.7 425.3,842.3 432.2,843.3 439.0,851.2 445.9,851.2 452.8,855.5 459.7,859.4 466.6,853.2 473.4,856.7 480.3,854.3 487.2,854.3 494.1,853.6 501.0,845.6 507.8,825.8 514.7,806.8 521.6,803.8 528.5,793.7 535.3,786.6 542.2,788.7 549.1,795.2 556.0,801.8 562.9,817.3 569.7,803.1 576.6,791.7 583.5,784.3 590.4,780.1 597.3,782.9 604.1,786.9 611.0,785.5 617.9,783.9 624.8,794.6 631.6,813.3 638.5,831.5 645.4,841.7 652.3,834.2 659.2,834.9 666.0,823.7 672.9,817.0 679.8,817.3 686.7,812.7 693.6,827.4 700.4,832.0 707.3,843.0 714.2,842.1 721.1,830.7 727.9,823.7 734.8,810.1 741.7,801.2 748.6,788.1 755.5,783.1 762.3,781.2 769.2,785.4 776.1,793.6 783.0,806.9 789.8,802.7 796.7,823.8 803.6,836.2 810.5,838.8 817.4,847.9 824.2,852.5 831.1,856.1 838.0,849.0 844.9,841.4 851.8,842.7 858.6,816.4 865.5,802.9 872.4,793.8 879.3,783.1 886.1,780.4 893.0,778.5 899.9,778.6 906.8,774.5 913.7,791.0 920.5,808.7 927.4,823.7 934.3,835.8 941.2,836.3 948.1,841.3 954.9,844.0 961.8,843.8 968.7,851.9 975.6,838.3 982.4,817.3 989.3,815.2 996.2,811.8 1003.1,808.7 1010.0,808.6 1016.8,821.9 1023.7,826.4 1030.6,822.3 1037.5,822.5 1044.4,802.2 1051.2,795.9 1058.1,793.9 1065.0,796.3 1071.9,796.8 1078.7,808.8 1085.6,820.0 1092.5,822.9 1099.4,834.2 1106.3,831.9 1113.1,829.0 1120.0,816.9 1126.9,821.6 1133.8,819.9 1140.7,826.4 1147.5,840.1 1154.4,846.8 1161.3,852.2 1168.2,846.4 1175.0,848.8 1181.9,841.7 1188.8,817.2 1195.7,799.0 1202.6,791.0 1209.4,801.7 1216.3,810.4 1223.2,825.6 1230.1,834.6 1237.0,837.8 1243.8,826.0 1250.7,831.2 1257.6,833.2 1264.5,841.7 1271.3,850.5 1278.2,853.2 1285.1,855.2 1292.0,855.4 1298.9,853.4 1305.7,854.5 1312.6,855.7 1319.5,852.9 1326.4,856.3 1333.3,855.9 1340.1,830.9 1347.0,815.0 1353.9,808.9 1360.8,803.1 1367.6,799.4 1374.5,788.7 1381.4,789.3 1388.3,780.5 1395.2,775.1 1402.0,779.1 1408.9,774.4 1415.8,773.0 1422.7,781.1 1429.5,789.1 1436.4,790.1 1443.3,784.4" fill="none" stroke="#ffffff" stroke-width="1.15" stroke-linejoin="round"/>
</g>
<rect x="2" y="535.3" width="1494" height="2.2" fill="#bc0000"/>
<rect x="2" y="711" width="1466" height="2.0" fill="#980000"/>
<rect x="1467.3" y="711" width="3.7" height="171" fill="#c40000"/>
<rect x="1467.3" y="711" width="29" height="3.7" fill="#c40000"/>
<rect x="1468" y="688.5" width="28" height="2.0" fill="#a60000"/>
<rect x="0" y="0" width="1496" height="9.2" fill="url(#tg)"/>
<rect x="0" y="0" width="2.2" height="882" fill="#ececec"/>
<path d="M1427.6 23.4 L1435.3 15.7 L1443.0 23.4 L1435.3 31.1 Z" fill="none" stroke="#a60000" stroke-width="1.6"/>
<rect x="1450.3" y="15.5" width="14" height="15.5" fill="none" stroke="#a60000" stroke-width="1.7"/>
<line x1="1459.5" y1="15.5" x2="1459.5" y2="31" stroke="#a60000" stroke-width="1.7"/>
<text x="3.4" y="28.6" fill="#c8c8c8" textLength="163" lengthAdjust="spacingAndGlyphs" style="font-family:'Liberation Sans','Noto Serif CJK SC',serif;font-size:18.6px">上证50(日线.前复权)</text>
<text x="196.7" y="28.3" fill="#ffffff" textLength="37.1" lengthAdjust="spacingAndGlyphs">MA5:</text>
<text x="240.1" y="28.3" fill="#ffffff" textLength="65.2" lengthAdjust="spacingAndGlyphs">2416.79</text>
<text x="315.3" y="28.3" fill="#ffff00" textLength="46.8" lengthAdjust="spacingAndGlyphs">MA10:</text>
<text x="368.8" y="28.3" fill="#ffff00" textLength="64.3" lengthAdjust="spacingAndGlyphs">2396.34</text>
<text x="444.4" y="28.3" fill="#ff00ff" textLength="47.4" lengthAdjust="spacingAndGlyphs">MA20:</text>
<text x="498.7" y="28.3" fill="#ff00ff" textLength="64.6" lengthAdjust="spacingAndGlyphs">2350.89</text>
<text x="573.6" y="28.3" fill="#00ff00" textLength="57.0" lengthAdjust="spacingAndGlyphs">MA250:</text>
<text x="638.1" y="28.3" fill="#00ff00" textLength="64.6" lengthAdjust="spacingAndGlyphs">2591.00</text>
<text x="2.6" y="555.7" fill="#ffffff" textLength="76.3" lengthAdjust="spacingAndGlyphs">VOLUME:</text>
<text x="85.6" y="555.7" fill="#ffffff" textLength="107.6" lengthAdjust="spacingAndGlyphs">25683680.00</text>
<text x="203" y="555.7" fill="#ffffff" textLength="36.3" lengthAdjust="spacingAndGlyphs">MA5:</text>
<text x="246.1" y="555.7" fill="#ffffff" textLength="106.9" lengthAdjust="spacingAndGlyphs">21599976.00</text>
<text x="363.2" y="555.7" fill="#ffff00" textLength="46.6" lengthAdjust="spacingAndGlyphs">MA10:</text>
<text x="417.3" y="555.7" fill="#ffff00" textLength="107.2" lengthAdjust="spacingAndGlyphs">21666872.00</text>
<text x="3" y="730.5" fill="#c8c8c8" textLength="84.5" lengthAdjust="spacingAndGlyphs">KDJ(9,3,3)</text>
<text x="97.7" y="730.5" fill="#ffffff" textLength="15.6" lengthAdjust="spacingAndGlyphs">K:</text>
<text x="120" y="730.5" fill="#ffffff" textLength="41.5" lengthAdjust="spacingAndGlyphs">78.81</text>
<text x="172.7" y="730.5" fill="#ffff00" textLength="17.5" lengthAdjust="spacingAndGlyphs">D:</text>
<text x="196.1" y="730.5" fill="#ffff00" textLength="43.7" lengthAdjust="spacingAndGlyphs">78.08</text>
<text x="248.4" y="730.5" fill="#ff00ff" textLength="13.3" lengthAdjust="spacingAndGlyphs">J:</text>
<text x="267.6" y="730.5" fill="#ff00ff" textLength="44.4" lengthAdjust="spacingAndGlyphs">80.29</text>
<text x="27.2" y="54.0" fill="#cdcdcd" textLength="65.5" lengthAdjust="spacingAndGlyphs">2932.22</text>
<text x="1488.5" y="578.8" fill="#f03232">6</text>
<text x="1488.5" y="624.0" fill="#f03232">4</text>
<text x="1488.5" y="669.8" fill="#f03232">2</text>
<text x="1471.5" y="706.8" fill="#f03232">X10</text>
<text x="1494.4" y="790.3" fill="#f03232">80</text>
<text x="1494.4" y="822.0" fill="#f03232">50</text>
<text x="1494.4" y="854.8" fill="#f03232">20</text>
<text x="1487.5" y="767.6" fill="#f03232">100</text>
</svg></body></html>
